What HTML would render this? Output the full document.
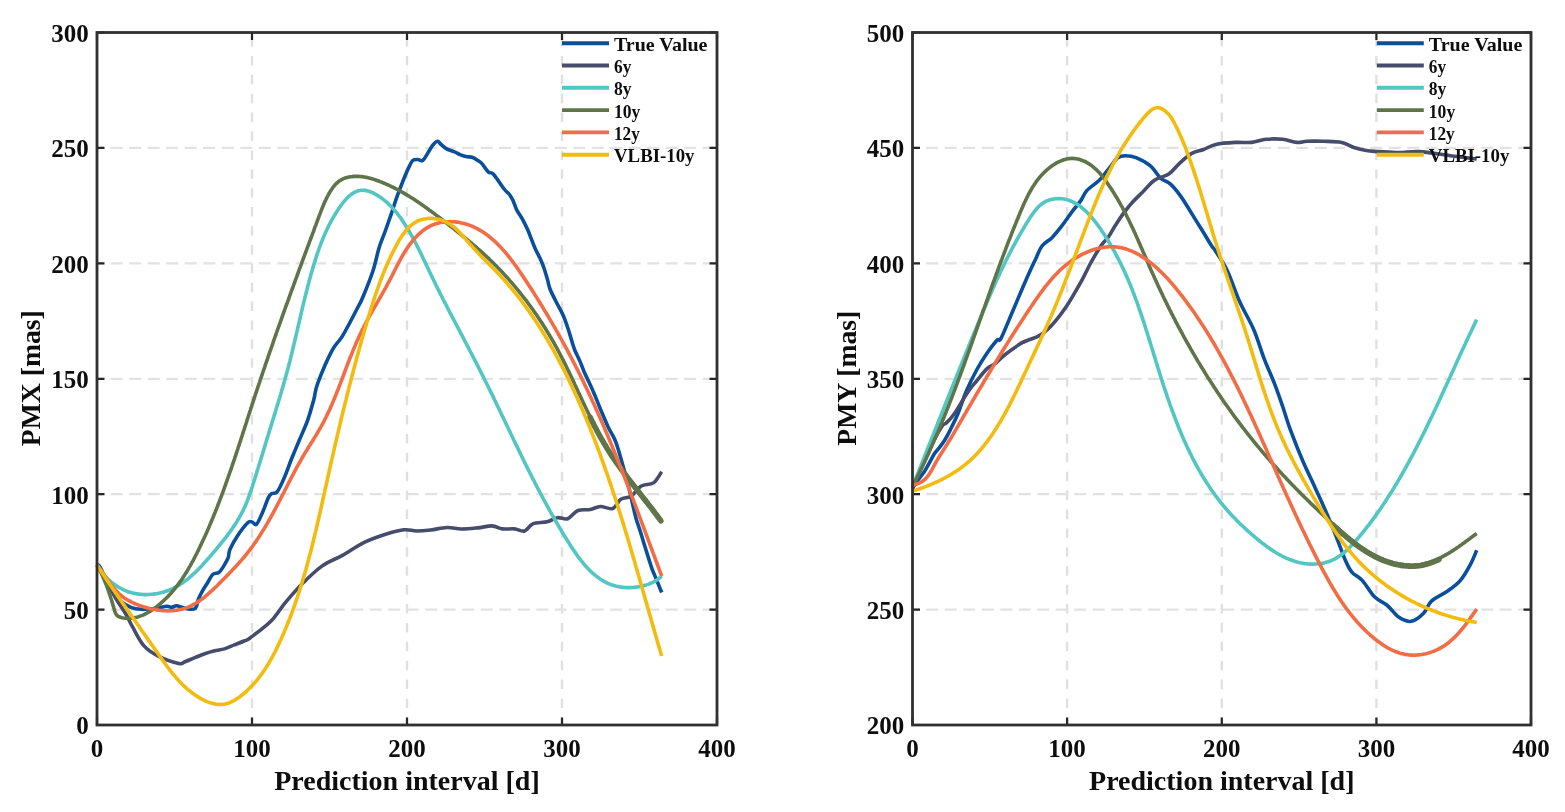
<!DOCTYPE html>
<html><head><meta charset="utf-8"><title>PMX / PMY prediction</title>
<style>
html,body{margin:0;padding:0;background:#fff;}
body{width:1565px;height:812px;overflow:hidden;}
svg{display:block;}
text{font-family:"Liberation Serif","Times New Roman",serif;font-weight:bold;fill:#0d0d0d;}
.tk{font-size:25px;}
.al{font-size:28px;}
.yl{font-size:27.7px;}
.lg{font-size:19.5px;}
</style></head><body>
<svg width="1565" height="812" viewBox="0 0 1565 812">
<rect width="1565" height="812" fill="#fff"/>
<path d="M252 32.5 V725 M407 32.5 V725 M562 32.5 V725" stroke="#e0e0e0" stroke-width="2.4" stroke-dasharray="9.5 9.4" stroke-dashoffset="-4.5" fill="none"/>
<path d="M97 609.6 H717 M97 494.2 H717 M97 378.8 H717 M97 263.3 H717 M97 147.9 H717" stroke="#e2e2e2" stroke-width="2.3" stroke-dasharray="12 6.5" stroke-dashoffset="4.8" fill="none"/>
<path d="M97 565 C97.5 565.4 98 563.4 100.2 567.4 C102.4 571.4 107 583.3 110.4 588.9 C113.8 594.5 117.3 598 120.7 601.1 C124.1 604.2 127.5 605.9 130.9 607.3 C134.3 608.7 136.8 609.1 141.1 609.3 C145.4 609.5 152.2 608.8 156.5 608.3 C160.8 607.8 164.1 606.4 166.7 606.2 C169.2 606 170.1 607.4 171.8 607.3 C173.5 607.2 174.4 605.5 176.9 605.7 C179.4 606 184 608.4 187.1 608.8 C190.2 609.2 193.4 609.9 195.3 608.3 C197.2 606.7 197.2 602 198.4 599.1 C199.6 596.2 201 593.6 202.5 590.9 C204 588.2 205.9 585.4 207.6 582.7 C209.3 580 210.8 576.2 212.7 574.5 C214.6 572.8 217.1 573.7 218.8 572.5 C220.5 571.3 221.4 569.8 222.9 567.4 C224.4 565 226.8 561.2 228 558.2 C229.2 555.2 228.4 553 230 549.3 C231.6 545.6 234.5 540.4 237.4 536 C240.3 531.6 245.3 525 247.7 522.7 C250.1 520.4 250.5 521.8 252 522 C253.5 522.2 254.9 525.8 256.6 524.2 C258.4 522.6 260.5 516.8 262.5 512.4 C264.5 508 266.8 500.8 268.4 497.6 C270 494.5 270.5 494.5 272 493.5 C273.5 492.5 275.2 494.5 277.3 491.7 C279.4 488.9 282.2 482.6 284.6 476.9 C287.1 471.2 289.5 463.8 292 457.7 C294.5 451.6 296.8 446.2 299.4 440 C302 433.8 305.2 427.1 307.6 420.4 C310 413.7 312 406.2 313.7 400 C315.4 393.8 314.7 391.4 317.8 383.1 C320.9 374.8 328 358.2 332.1 350.4 C336.2 342.6 338.3 342.9 342.4 336.1 C346.5 329.3 353.3 316 356.7 309.5 C360.1 303 360.1 303.8 362.8 297.3 C365.5 290.8 370.3 278.9 373 270.7 C375.7 262.5 377 254.5 379 248 C381 241.5 383.1 237.2 385.1 231.5 C387.1 225.8 389.3 219.6 391.2 214.1 C393.1 208.6 394.7 203.4 396.3 198.7 C397.9 194 399.6 189.8 401 186.1 C402.4 182.3 403.6 179.3 404.9 176.2 C406.2 173.1 407.5 170 408.8 167.4 C410.1 164.8 411.2 161.8 412.7 160.5 C414.2 159.2 416 159.5 417.7 159.5 C419.4 159.5 421 161.5 422.6 160.5 C424.2 159.5 425.9 156.1 427.5 153.6 C429.1 151.1 430.8 147.8 432.4 145.7 C434 143.6 435.9 141.5 437.4 141.3 C438.9 141.1 439.8 143.5 441.3 144.7 C442.8 145.9 444.1 147.4 446.2 148.6 C448.3 149.8 451.8 150.6 454.1 151.6 C456.4 152.6 458 153.8 460 154.6 C462 155.4 463.8 156 465.9 156.5 C468 157 470.8 156.8 472.8 157.5 C474.8 158.2 476.3 159.5 477.8 160.5 C479.3 161.5 480.6 162.2 481.7 163.4 C482.8 164.6 483.5 165.9 484.7 167.4 C485.9 168.9 487.1 171.2 488.6 172.3 C490.1 173.5 490.9 171.4 493.5 174.3 C496.1 177.2 501.9 186.2 504.5 189.5 C507.1 192.8 507.6 192.2 509 194 C510.4 195.8 511.5 197.3 512.8 200 C514.1 202.7 515.1 206.6 516.7 209.9 C518.4 213.2 520.9 216.4 522.7 219.7 C524.5 223 526.1 226.3 527.6 229.6 C529.1 232.9 530.2 236.1 531.5 239.4 C532.8 242.7 534 246 535.5 249.3 C537 252.6 538.9 255.8 540.4 259.1 C541.9 262.4 543.1 265.7 544.3 269 C545.4 272.3 546.3 275.5 547.3 278.8 C548.2 282.1 548.5 285.1 550 289 C551.5 292.9 554.3 298.2 556.5 302.5 C558.7 306.8 561.1 310.7 563 315 C564.9 319.3 566.6 324.3 568 328.5 C569.4 332.7 570.4 336.4 571.5 340 C572.6 343.6 573.3 346.5 574.7 350 C576.1 353.5 578.3 357.4 579.9 361.1 C581.5 364.8 582.8 368.8 584.3 372.2 C585.8 375.6 587.3 378.6 588.8 381.8 C590.3 385 591.9 388.3 593.2 391.4 C594.6 394.5 595.7 397.3 596.9 400.3 C598.1 403.3 598.8 405.1 600.6 409.5 C602.5 413.9 605.6 421.6 608 426.7 C610.4 431.8 613.2 435.8 615 440 C616.8 444.2 617.7 447.7 619 452 C620.3 456.3 621.7 461.3 623 466 C624.3 470.7 625.7 475 627 480 C628.3 485 629.6 491 630.8 496 C632 501 633 506 634 510 C635 514 635.4 516.4 636.5 520 C637.6 523.6 639.1 527.7 640.4 531.8 C641.7 535.9 643 540.3 644.3 544.6 C645.6 548.9 647 553.3 648.3 557.4 C649.6 561.5 650.7 565.3 652.2 569.3 C653.7 573.2 655.5 577.2 657.1 581.1 C658.7 585 660.9 590.6 661.7 592.5" stroke="#0a4f9c" stroke-width="3.6" fill="none" stroke-linejoin="round" stroke-linecap="butt"/>
<path d="M97 565 C98.4 567.3 102.2 573.1 105.3 578.6 C108.4 584.1 112.2 592.1 115.6 598 C119 603.9 122.9 609 125.8 614 C128.7 619 130 622.4 133 627.7 C136 633 139.8 641.2 144 645.9 C148.2 650.6 152.5 653.2 158.3 656.1 C164.1 659 174.4 662.6 178.8 663.5 C183.2 664.4 182.3 662.7 185 661.7 C187.7 660.7 191.6 659 194.9 657.7 C198.2 656.4 201.4 654.9 204.7 653.8 C208 652.6 211.3 651.6 214.6 650.8 C217.9 650 221.1 649.9 224.4 648.9 C227.7 647.9 231 646.2 234.3 644.9 C237.6 643.6 241.4 642.2 244.1 641 C246.8 639.8 245.9 641 250.4 637.7 C254.9 634.4 265 627.1 270.8 621.3 C276.6 615.5 280 609 285.1 602.9 C290.2 596.8 295.4 590.6 301.5 584.5 C307.6 578.4 315.1 571 321.9 566.1 C328.7 561.2 335.6 559.2 342.4 555.4 C349.2 551.6 356 546.5 362.8 543.1 C369.6 539.7 376.5 537.2 383.3 535 C390.1 532.8 398.2 530.5 403.7 529.8 C409.2 529.1 411.9 531 416.4 531 C420.9 531 425.6 530.6 430.7 530 C435.8 529.4 441.9 527.7 447 527.5 C452.1 527.3 456.2 528.9 461.3 529 C466.4 529.1 472.6 528.4 477.7 527.9 C482.8 527.4 487.9 525.7 492 525.9 C496.1 526.1 498.4 528.4 502.2 528.9 C505.9 529.4 510.8 528.5 514.5 528.9 C518.2 529.2 521.6 531.9 524.7 531 C527.8 530.1 529.1 525.3 532.9 523.8 C536.6 522.3 543.1 522.8 547.2 521.8 C551.3 520.8 554 518.2 557.4 517.7 C560.8 517.2 564.3 519.9 567.7 518.7 C571.1 517.5 574.1 512 577.9 510.5 C581.6 509 586.5 510.2 590.2 509.5 C594 508.8 596.6 506.7 600.4 506.5 C604.1 506.3 609.3 509.7 612.7 508.5 C616.1 507.3 617.7 501.4 620.8 499.3 C623.9 497.2 627.7 498.4 631.1 496.2 C634.5 494 637.6 488.2 641.3 486 C645 483.8 650.1 485.3 653.5 482.9 C656.9 480.5 660.3 473.6 661.7 471.7" stroke="#464c6c" stroke-width="3.6" fill="none" stroke-linejoin="round" stroke-linecap="butt"/>
<path d="M97 565 L97.7 566.3 L98.5 567.6 L99.3 568.8 L100.2 570 L101 571.3 L101.9 572.4 L102.9 573.6 L103.8 574.8 L104.8 575.9 L105.9 577 L106.9 578.1 L108 579.1 L109.1 580.2 L110.2 581.2 L111.4 582.1 L112.6 583.1 L113.8 584 L115 584.9 L116.3 585.7 L117.5 586.5 L118.8 587.3 L120.1 588 L121.4 588.7 L122.8 589.4 L124.1 590.1 L125.5 590.6 L126.9 591.2 L128.3 591.7 L129.7 592.2 L131.2 592.6 L132.6 593 L134.1 593.3 L135.5 593.6 L137 593.9 L138.5 594.1 L139.9 594.3 L141.4 594.4 L142.9 594.5 L144.4 594.6 L145.9 594.6 L147.4 594.6 L148.9 594.5 L150.4 594.4 L151.9 594.3 L153.4 594.1 L154.9 593.9 L156.4 593.7 L157.9 593.4 L159.3 593.1 L160.8 592.8 L162.3 592.4 L163.7 592 L165.1 591.5 L166.6 591 L168 590.5 L169.4 590 L170.7 589.4 L172.1 588.8 L173.4 588.2 L174.7 587.5 L176 586.8 L177.3 586.1 L178.6 585.4 L179.9 584.6 L181.1 583.8 L182.3 583 L183.5 582.1 L184.7 581.3 L185.9 580.4 L187.1 579.5 L188.3 578.6 L189.4 577.6 L190.5 576.6 L191.7 575.7 L192.8 574.7 L193.9 573.6 L195 572.6 L196.1 571.6 L197.1 570.5 L198.2 569.4 L199.3 568.4 L200.3 567.3 L201.4 566.2 L202.4 565.1 L203.4 563.9 L204.4 562.8 L205.5 561.7 L206.5 560.5 L207.5 559.4 L208.5 558.2 L209.5 557.1 L210.5 555.9 L211.5 554.8 L212.5 553.6 L213.4 552.5 L214.4 551.3 L215.4 550.1 L216.4 549 L217.4 547.8 L218.3 546.7 L219.3 545.5 L220.2 544.3 L221.2 543.2 L222.1 542 L223.1 540.8 L224 539.6 L224.9 538.5 L225.9 537.3 L226.8 536.1 L227.7 534.9 L228.6 533.7 L229.5 532.5 L230.3 531.3 L231.2 530.1 L232.1 528.9 L232.9 527.6 L233.7 526.4 L234.6 525.2 L235.4 523.9 L236.2 522.7 L237 521.4 L237.7 520.2 L238.5 518.9 L239.2 517.6 L240 516.3 L240.7 515 L241.4 513.7 L242.1 512.4 L242.7 511.1 L243.4 509.8 L244 508.4 L244.7 507.1 L245.3 505.7 L245.9 504.3 L246.4 503 L247 501.6 L247.5 500.2 L248.1 498.8 L248.6 497.4 L249.1 496 L249.6 494.6 L250.1 493.1 L250.6 491.7 L251.1 490.3 L251.5 488.8 L252 487.4 L252.5 486 L252.9 484.5 L253.4 483.1 L253.9 481.7 L254.3 480.2 L254.8 478.8 L255.2 477.3 L255.7 475.9 L256.1 474.5 L256.6 473 L257 471.6 L257.4 470.2 L257.9 468.7 L258.3 467.3 L258.8 465.9 L259.2 464.4 L259.7 463 L260.1 461.6 L260.5 460.2 L261 458.7 L261.4 457.3 L261.9 455.9 L262.3 454.4 L262.7 453 L263.2 451.6 L263.6 450.1 L264 448.7 L264.5 447.3 L264.9 445.9 L265.3 444.4 L265.8 443 L266.2 441.6 L266.6 440.1 L267.1 438.7 L267.5 437.3 L268 435.9 L268.4 434.4 L268.8 433 L269.3 431.6 L269.7 430.1 L270.1 428.7 L270.6 427.3 L271 425.9 L271.5 424.4 L271.9 423 L272.3 421.6 L272.8 420.1 L273.2 418.7 L273.7 417.3 L274.1 415.8 L274.5 414.4 L275 413 L275.4 411.6 L275.9 410.1 L276.3 408.7 L276.7 407.3 L277.2 405.8 L277.6 404.4 L278.1 403 L278.5 401.5 L278.9 400.1 L279.4 398.6 L279.8 397.2 L280.2 395.8 L280.7 394.3 L281.1 392.9 L281.5 391.5 L281.9 390 L282.4 388.6 L282.8 387.1 L283.2 385.7 L283.6 384.3 L284 382.8 L284.4 381.4 L284.8 379.9 L285.2 378.5 L285.6 377.1 L286 375.6 L286.4 374.2 L286.8 372.7 L287.2 371.3 L287.6 369.8 L288 368.4 L288.4 366.9 L288.7 365.5 L289.1 364 L289.5 362.6 L289.9 361.1 L290.2 359.7 L290.6 358.2 L290.9 356.8 L291.3 355.3 L291.7 353.9 L292 352.4 L292.4 351 L292.7 349.5 L293.1 348.1 L293.4 346.6 L293.8 345.2 L294.1 343.7 L294.4 342.3 L294.8 340.8 L295.1 339.3 L295.5 337.9 L295.8 336.4 L296.1 335 L296.5 333.5 L296.8 332.1 L297.2 330.6 L297.5 329.2 L297.8 327.7 L298.2 326.2 L298.5 324.8 L298.8 323.3 L299.2 321.9 L299.5 320.4 L299.9 319 L300.2 317.5 L300.5 316 L300.9 314.6 L301.2 313.1 L301.6 311.7 L301.9 310.2 L302.2 308.8 L302.6 307.3 L302.9 305.9 L303.3 304.4 L303.6 303 L304 301.5 L304.3 300.1 L304.7 298.6 L305 297.2 L305.4 295.7 L305.8 294.2 L306.1 292.8 L306.5 291.3 L306.9 289.9 L307.2 288.5 L307.6 287 L308 285.6 L308.4 284.1 L308.8 282.7 L309.1 281.2 L309.5 279.8 L309.9 278.3 L310.3 276.9 L310.7 275.4 L311.1 274 L311.5 272.6 L312 271.1 L312.4 269.7 L312.8 268.2 L313.2 266.8 L313.6 265.4 L314.1 263.9 L314.5 262.5 L315 261.1 L315.4 259.6 L315.9 258.2 L316.3 256.8 L316.8 255.3 L317.3 253.9 L317.7 252.5 L318.2 251.1 L318.7 249.7 L319.2 248.2 L319.7 246.8 L320.3 245.4 L320.8 244 L321.3 242.6 L321.9 241.2 L322.4 239.8 L323 238.4 L323.6 237 L324.2 235.6 L324.8 234.2 L325.4 232.9 L326 231.5 L326.6 230.1 L327.3 228.7 L327.9 227.4 L328.6 226 L329.3 224.7 L330 223.3 L330.7 222 L331.4 220.6 L332.2 219.3 L332.9 218 L333.7 216.6 L334.5 215.3 L335.3 214 L336.1 212.7 L336.9 211.4 L337.8 210.1 L338.6 208.8 L339.5 207.5 L340.4 206.3 L341.3 205 L342.2 203.8 L343.2 202.5 L344.2 201.4 L345.2 200.2 L346.2 199.1 L347.2 198 L348.2 197 L349.3 196 L350.4 195.1 L351.5 194.3 L352.6 193.5 L353.7 192.8 L354.9 192.1 L356.1 191.6 L357.3 191.1 L358.5 190.8 L359.7 190.5 L361 190.3 L362.3 190.3 L363.6 190.3 L364.9 190.4 L366.2 190.6 L367.5 190.9 L368.9 191.3 L370.2 191.8 L371.6 192.3 L373 192.9 L374.3 193.6 L375.6 194.3 L377 195.1 L378.3 195.9 L379.6 196.8 L380.9 197.7 L382.2 198.6 L383.5 199.6 L384.8 200.6 L386 201.7 L387.2 202.7 L388.4 203.8 L389.5 204.9 L390.6 206 L391.7 207.1 L392.8 208.3 L393.8 209.4 L394.8 210.6 L395.8 211.7 L396.8 212.9 L397.7 214.1 L398.6 215.3 L399.5 216.5 L400.4 217.7 L401.3 218.9 L402.1 220.2 L403 221.4 L403.8 222.7 L404.6 223.9 L405.4 225.2 L406.2 226.4 L407 227.7 L407.7 229 L408.5 230.2 L409.3 231.5 L410 232.8 L410.7 234.1 L411.5 235.4 L412.2 236.7 L412.9 238 L413.6 239.3 L414.3 240.6 L415 241.9 L415.7 243.2 L416.4 244.5 L417 245.9 L417.7 247.2 L418.4 248.5 L419 249.8 L419.7 251.2 L420.4 252.5 L421 253.8 L421.7 255.2 L422.3 256.5 L422.9 257.8 L423.6 259.2 L424.2 260.5 L424.9 261.9 L425.5 263.2 L426.1 264.6 L426.8 265.9 L427.4 267.2 L428.1 268.6 L428.7 269.9 L429.3 271.3 L430 272.6 L430.6 274 L431.3 275.3 L431.9 276.7 L432.6 278 L433.2 279.3 L433.9 280.7 L434.5 282 L435.2 283.4 L435.8 284.7 L436.5 286.1 L437.2 287.4 L437.8 288.7 L438.5 290.1 L439.2 291.4 L439.8 292.8 L440.5 294.1 L441.2 295.4 L441.9 296.8 L442.5 298.1 L443.2 299.5 L443.9 300.8 L444.6 302.1 L445.3 303.5 L446 304.8 L446.7 306.1 L447.3 307.5 L448 308.8 L448.7 310.2 L449.4 311.5 L450.1 312.8 L450.8 314.2 L451.5 315.5 L452.2 316.8 L452.9 318.2 L453.6 319.5 L454.3 320.8 L455 322.2 L455.7 323.5 L456.4 324.8 L457.1 326.2 L457.8 327.5 L458.5 328.8 L459.2 330.2 L459.9 331.5 L460.6 332.9 L461.3 334.2 L462 335.5 L462.7 336.9 L463.4 338.2 L464.1 339.5 L464.8 340.9 L465.5 342.2 L466.2 343.5 L466.9 344.9 L467.6 346.2 L468.3 347.5 L468.9 348.9 L469.6 350.2 L470.3 351.5 L471 352.9 L471.7 354.2 L472.4 355.5 L473.1 356.9 L473.8 358.2 L474.5 359.5 L475.2 360.9 L475.9 362.2 L476.6 363.6 L477.2 364.9 L477.9 366.2 L478.6 367.6 L479.3 368.9 L480 370.2 L480.6 371.6 L481.3 372.9 L482 374.3 L482.7 375.6 L483.3 376.9 L484 378.3 L484.7 379.6 L485.3 381 L486 382.3 L486.7 383.6 L487.3 385 L488 386.3 L488.7 387.7 L489.3 389 L490 390.3 L490.6 391.7 L491.3 393 L491.9 394.4 L492.6 395.7 L493.2 397.1 L493.9 398.4 L494.5 399.7 L495.2 401.1 L495.8 402.4 L496.5 403.8 L497.1 405.1 L497.8 406.5 L498.4 407.8 L499.1 409.1 L499.7 410.5 L500.4 411.8 L501 413.2 L501.6 414.5 L502.3 415.9 L502.9 417.2 L503.6 418.5 L504.2 419.9 L504.8 421.2 L505.5 422.6 L506.1 423.9 L506.8 425.3 L507.4 426.6 L508.1 427.9 L508.7 429.3 L509.3 430.6 L510 432 L510.6 433.3 L511.3 434.7 L511.9 436 L512.5 437.3 L513.2 438.7 L513.8 440 L514.5 441.4 L515.1 442.7 L515.8 444.1 L516.4 445.4 L517.1 446.7 L517.7 448.1 L518.4 449.4 L519 450.8 L519.7 452.1 L520.3 453.4 L521 454.8 L521.6 456.1 L522.3 457.5 L522.9 458.8 L523.6 460.1 L524.2 461.5 L524.9 462.8 L525.5 464.2 L526.2 465.5 L526.9 466.8 L527.5 468.2 L528.2 469.5 L528.9 470.8 L529.5 472.2 L530.2 473.5 L530.9 474.8 L531.6 476.2 L532.2 477.5 L532.9 478.8 L533.6 480.2 L534.3 481.5 L534.9 482.8 L535.6 484.2 L536.3 485.5 L537 486.8 L537.7 488.2 L538.4 489.5 L539.1 490.8 L539.8 492.1 L540.5 493.5 L541.2 494.8 L541.9 496.1 L542.6 497.4 L543.3 498.8 L544 500.1 L544.7 501.4 L545.4 502.7 L546.2 504.1 L546.9 505.4 L547.6 506.7 L548.3 508 L549.1 509.3 L549.8 510.7 L550.5 512 L551.3 513.3 L552 514.6 L552.8 515.9 L553.5 517.2 L554.3 518.6 L555 519.9 L555.8 521.2 L556.5 522.5 L557.3 523.8 L558.1 525.1 L558.8 526.4 L559.6 527.7 L560.4 529 L561.2 530.4 L561.9 531.7 L562.7 533 L563.5 534.3 L564.3 535.6 L565.1 536.9 L565.9 538.2 L566.7 539.5 L567.5 540.8 L568.4 542.1 L569.2 543.4 L570 544.7 L570.8 546 L571.7 547.2 L572.5 548.5 L573.4 549.8 L574.2 551.1 L575.1 552.3 L575.9 553.6 L576.8 554.8 L577.7 556.1 L578.6 557.3 L579.5 558.5 L580.4 559.7 L581.3 560.9 L582.3 562 L583.2 563.2 L584.2 564.3 L585.1 565.5 L586.1 566.6 L587.1 567.6 L588.1 568.7 L589.1 569.8 L590.1 570.8 L591.2 571.8 L592.2 572.8 L593.3 573.7 L594.4 574.7 L595.5 575.6 L596.6 576.4 L597.7 577.3 L598.9 578.1 L600 578.9 L601.2 579.7 L602.4 580.4 L603.6 581.1 L604.9 581.8 L606.1 582.5 L607.4 583.1 L608.7 583.6 L610 584.2 L611.3 584.7 L612.7 585.1 L614.1 585.6 L615.5 586 L616.9 586.3 L618.3 586.6 L619.8 586.9 L621.3 587.1 L622.8 587.3 L624.3 587.5 L625.9 587.6 L627.4 587.6 L629 587.6 L630.6 587.6 L632.2 587.5 L633.8 587.4 L635.5 587.2 L637.1 587 L638.7 586.8 L640.3 586.5 L641.9 586.1 L643.4 585.8 L645 585.3 L646.5 584.9 L648 584.4 L649.5 583.8 L650.9 583.2 L652.3 582.6 L653.7 581.9 L655 581.2 L656.2 580.4 L657.5 579.6 L658.6 578.8 L659.7 577.9 L660.7 577 L661.7 576" stroke="#52c6c2" stroke-width="3.6" fill="none" stroke-linejoin="round" stroke-linecap="butt"/>
<path d="M97 565 L97.8 566.4 L98.5 567.7 L99.2 569.1 L99.9 570.5 L100.6 571.8 L101.2 573.2 L101.9 574.6 L102.5 575.9 L103.1 577.3 L103.7 578.6 L104.3 580 L104.8 581.3 L105.4 582.7 L105.9 584.1 L106.5 585.4 L107 586.8 L107.5 588.2 L108 589.6 L108.5 591 L109 592.4 L109.4 593.8 L109.9 595.2 L110.4 596.6 L110.8 598 L111.3 599.4 L111.7 600.9 L112.2 602.3 L112.6 603.8 L113 605.3 L113.5 606.7 L113.9 608.2 L114.4 609.8 L114.8 611.3 L115.4 612.7 L116 614 L116.8 615.2 L117.8 616.1 L119.1 616.8 L120.5 617.3 L122 617.7 L123.5 618 L124.9 618.2 L126.4 618.3 L127.9 618.4 L129.3 618.3 L130.8 618.3 L132.3 618.1 L133.7 617.9 L135.1 617.6 L136.6 617.3 L138 616.9 L139.4 616.4 L140.8 615.9 L142.2 615.4 L143.6 614.8 L144.9 614.1 L146.3 613.4 L147.6 612.7 L149 611.9 L150.3 611.1 L151.6 610.3 L152.9 609.4 L154.2 608.5 L155.4 607.6 L156.7 606.6 L157.9 605.7 L159.1 604.7 L160.3 603.7 L161.4 602.7 L162.6 601.6 L163.7 600.6 L164.8 599.5 L165.9 598.5 L167 597.4 L168.1 596.3 L169.1 595.2 L170.2 594.1 L171.2 593 L172.2 591.8 L173.1 590.7 L174.1 589.5 L175.1 588.4 L176 587.2 L176.9 586 L177.8 584.8 L178.7 583.6 L179.6 582.4 L180.5 581.2 L181.3 580 L182.2 578.8 L183 577.5 L183.8 576.3 L184.6 575 L185.4 573.8 L186.2 572.5 L187 571.3 L187.7 570 L188.5 568.7 L189.2 567.4 L190 566.1 L190.7 564.8 L191.4 563.5 L192.1 562.2 L192.9 560.9 L193.6 559.6 L194.2 558.3 L194.9 557 L195.6 555.6 L196.3 554.3 L197 553 L197.6 551.6 L198.3 550.3 L198.9 549 L199.6 547.6 L200.2 546.3 L200.9 544.9 L201.5 543.6 L202.1 542.2 L202.8 540.9 L203.4 539.5 L204 538.2 L204.6 536.8 L205.3 535.5 L205.9 534.1 L206.5 532.8 L207.1 531.4 L207.7 530 L208.3 528.7 L208.9 527.3 L209.5 525.9 L210 524.5 L210.6 523.2 L211.2 521.8 L211.8 520.4 L212.3 519 L212.9 517.7 L213.5 516.3 L214 514.9 L214.6 513.5 L215.2 512.1 L215.7 510.7 L216.3 509.4 L216.8 508 L217.4 506.6 L217.9 505.2 L218.4 503.8 L219 502.4 L219.5 501 L220 499.6 L220.6 498.2 L221.1 496.8 L221.6 495.4 L222.2 494 L222.7 492.6 L223.2 491.2 L223.7 489.8 L224.2 488.4 L224.7 487 L225.2 485.6 L225.7 484.1 L226.2 482.7 L226.7 481.3 L227.2 479.9 L227.7 478.5 L228.2 477.1 L228.7 475.7 L229.2 474.3 L229.7 472.8 L230.2 471.4 L230.7 470 L231.2 468.6 L231.7 467.2 L232.2 465.7 L232.6 464.3 L233.1 462.9 L233.6 461.5 L234.1 460.1 L234.6 458.6 L235 457.2 L235.5 455.8 L236 454.4 L236.5 452.9 L236.9 451.5 L237.4 450.1 L237.9 448.6 L238.3 447.2 L238.8 445.8 L239.3 444.4 L239.7 442.9 L240.2 441.5 L240.7 440.1 L241.1 438.6 L241.6 437.2 L242.1 435.8 L242.5 434.4 L243 432.9 L243.4 431.5 L243.9 430.1 L244.4 428.6 L244.8 427.2 L245.3 425.8 L245.8 424.3 L246.2 422.9 L246.7 421.5 L247.1 420.1 L247.6 418.6 L248.1 417.2 L248.5 415.8 L249 414.3 L249.5 412.9 L249.9 411.5 L250.4 410 L250.8 408.6 L251.3 407.2 L251.8 405.8 L252.2 404.3 L252.7 402.9 L253.2 401.5 L253.6 400.1 L254.1 398.6 L254.6 397.2 L255 395.8 L255.5 394.3 L256 392.9 L256.4 391.5 L256.9 390.1 L257.4 388.6 L257.9 387.2 L258.3 385.8 L258.8 384.4 L259.3 383 L259.8 381.5 L260.2 380.1 L260.7 378.7 L261.2 377.3 L261.7 375.8 L262.2 374.4 L262.6 373 L263.1 371.6 L263.6 370.2 L264.1 368.7 L264.6 367.3 L265 365.9 L265.5 364.5 L266 363.1 L266.5 361.7 L267 360.2 L267.5 358.8 L268 357.4 L268.4 356 L268.9 354.6 L269.4 353.2 L269.9 351.7 L270.4 350.3 L270.9 348.9 L271.4 347.5 L271.9 346.1 L272.4 344.7 L272.9 343.3 L273.3 341.8 L273.8 340.4 L274.3 339 L274.8 337.6 L275.3 336.2 L275.8 334.8 L276.3 333.4 L276.8 332 L277.3 330.5 L277.8 329.1 L278.3 327.7 L278.8 326.3 L279.3 324.9 L279.8 323.5 L280.3 322.1 L280.8 320.7 L281.3 319.3 L281.8 317.9 L282.3 316.4 L282.8 315 L283.3 313.6 L283.8 312.2 L284.3 310.8 L284.8 309.4 L285.3 308 L285.8 306.6 L286.3 305.2 L286.9 303.8 L287.4 302.4 L287.9 301 L288.4 299.6 L288.9 298.1 L289.4 296.7 L289.9 295.3 L290.4 293.9 L290.9 292.5 L291.4 291.1 L291.9 289.7 L292.5 288.3 L293 286.9 L293.5 285.5 L294 284.1 L294.5 282.7 L295 281.3 L295.5 279.9 L296 278.5 L296.6 277.1 L297.1 275.7 L297.6 274.3 L298.1 272.9 L298.6 271.4 L299.1 270 L299.6 268.6 L300.2 267.2 L300.7 265.8 L301.2 264.4 L301.7 263 L302.2 261.6 L302.7 260.2 L303.3 258.8 L303.8 257.4 L304.3 256 L304.8 254.6 L305.3 253.2 L305.9 251.8 L306.4 250.4 L306.9 249 L307.4 247.6 L307.9 246.2 L308.5 244.8 L309 243.4 L309.5 242 L310 240.6 L310.5 239.2 L311.1 237.8 L311.6 236.4 L312.1 235 L312.6 233.6 L313.2 232.2 L313.7 230.8 L314.2 229.3 L314.7 227.9 L315.2 226.5 L315.8 225.1 L316.3 223.7 L316.8 222.3 L317.3 220.9 L317.9 219.5 L318.4 218.1 L318.9 216.7 L319.4 215.3 L320 213.9 L320.5 212.5 L321 211.1 L321.6 209.7 L322.1 208.3 L322.7 206.9 L323.3 205.5 L323.8 204.2 L324.4 202.8 L325 201.4 L325.7 200 L326.3 198.7 L327 197.3 L327.7 196 L328.4 194.6 L329.2 193.3 L329.9 192 L330.7 190.7 L331.6 189.4 L332.4 188.2 L333.3 186.9 L334.3 185.8 L335.3 184.6 L336.3 183.6 L337.4 182.6 L338.5 181.6 L339.7 180.8 L340.9 180 L342.2 179.3 L343.5 178.7 L344.9 178.1 L346.3 177.7 L347.8 177.3 L349.2 177 L350.7 176.7 L352.2 176.6 L353.8 176.4 L355.3 176.4 L356.8 176.4 L358.4 176.4 L359.9 176.5 L361.4 176.6 L362.9 176.8 L364.3 177 L365.8 177.3 L367.3 177.6 L368.7 177.9 L370.1 178.3 L371.6 178.7 L373 179.1 L374.4 179.6 L375.8 180 L377.2 180.5 L378.6 181 L380 181.6 L381.4 182.1 L382.8 182.7 L384.2 183.2 L385.5 183.8 L386.9 184.4 L388.3 185 L389.6 185.7 L391 186.3 L392.3 187 L393.7 187.6 L395 188.3 L396.3 189 L397.6 189.7 L399 190.4 L400.3 191.1 L401.6 191.9 L402.9 192.6 L404.2 193.3 L405.5 194.1 L406.8 194.9 L408.1 195.7 L409.4 196.4 L410.6 197.2 L411.9 198 L413.2 198.8 L414.4 199.6 L415.7 200.5 L416.9 201.3 L418.2 202.1 L419.4 203 L420.6 203.8 L421.9 204.7 L423.1 205.5 L424.3 206.4 L425.5 207.2 L426.7 208.1 L427.9 209 L429.1 209.9 L430.3 210.7 L431.5 211.6 L432.7 212.5 L433.9 213.4 L435.1 214.3 L436.2 215.2 L437.4 216 L438.6 216.9 L439.8 217.8 L440.9 218.7 L442.1 219.6 L443.3 220.6 L444.4 221.5 L445.6 222.4 L446.8 223.3 L447.9 224.2 L449.1 225.1 L450.2 226 L451.4 226.9 L452.6 227.9 L453.8 228.8 L454.9 229.7 L456.1 230.6 L457.3 231.6 L458.4 232.5 L459.6 233.4 L460.8 234.4 L461.9 235.3 L463.1 236.3 L464.3 237.2 L465.4 238.1 L466.6 239.1 L467.7 240.1 L468.9 241 L470 242 L471.2 242.9 L472.3 243.9 L473.5 244.9 L474.6 245.9 L475.8 246.8 L476.9 247.8 L478 248.8 L479.2 249.8 L480.3 250.8 L481.4 251.8 L482.5 252.8 L483.6 253.8 L484.7 254.8 L485.8 255.9 L486.9 256.9 L488 257.9 L489.1 258.9 L490.2 260 L491.3 261 L492.3 262.1 L493.4 263.1 L494.5 264.2 L495.5 265.2 L496.6 266.3 L497.6 267.4 L498.7 268.5 L499.7 269.5 L500.7 270.6 L501.8 271.7 L502.8 272.8 L503.8 273.9 L504.8 275 L505.8 276.1 L506.8 277.2 L507.8 278.3 L508.8 279.4 L509.8 280.6 L510.8 281.7 L511.8 282.8 L512.7 283.9 L513.7 285.1 L514.7 286.2 L515.6 287.4 L516.6 288.5 L517.5 289.7 L518.5 290.8 L519.4 292 L520.3 293.1 L521.3 294.3 L522.2 295.5 L523.1 296.7 L524 297.8 L525 299 L525.9 300.2 L526.8 301.4 L527.7 302.6 L528.5 303.8 L529.4 305 L530.3 306.2 L531.2 307.4 L532.1 308.6 L532.9 309.8 L533.8 311.1 L534.7 312.3 L535.5 313.5 L536.4 314.7 L537.2 316 L538 317.2 L538.9 318.5 L539.7 319.7 L540.5 320.9 L541.3 322.2 L542.2 323.4 L543 324.7 L543.8 326 L544.6 327.2 L545.4 328.5 L546.2 329.8 L546.9 331 L547.7 332.3 L548.5 333.6 L549.3 334.9 L550 336.2 L550.8 337.5 L551.5 338.7 L552.3 340 L553 341.3 L553.8 342.6 L554.5 343.9 L555.2 345.3 L556 346.6 L556.7 347.9 L557.4 349.2 L558.1 350.5 L558.8 351.8 L559.5 353.2 L560.2 354.5 L560.9 355.8 L561.6 357.1 L562.3 358.5 L563 359.8 L563.6 361.2 L564.3 362.5 L565 363.8 L565.7 365.2 L566.3 366.5 L567 367.9 L567.6 369.2 L568.3 370.6 L568.9 371.9 L569.6 373.3 L570.2 374.6 L570.9 376 L571.5 377.4 L572.2 378.7 L572.8 380.1 L573.4 381.4 L574.1 382.8 L574.7 384.2 L575.3 385.5 L576 386.9 L576.6 388.2 L577.3 389.6 L577.9 391 L578.5 392.3 L579.2 393.7 L579.8 395.1 L580.4 396.4 L581.1 397.8 L581.7 399.1 L582.3 400.5 L583 401.9 L583.6 403.2 L584.2 404.6 L584.9 405.9 L585.5 407.3 L586.2 408.6 L586.8 410 L587.5 411.3 L588.1 412.7 L588.8 414 L589.4 415.4 L590.1 416.7 L590.8 418.1 L591.4 419.4 L592.1 420.8 L592.8 422.1 L593.5 423.4 L594.1 424.8 L594.8 426.1 L595.5 427.4 L596.2 428.7 L596.9 430.1 L597.6 431.4 L598.3 432.7 L599.1 434 L599.8 435.3 L600.5 436.6 L601.2 437.9 L602 439.2 L602.7 440.5 L603.5 441.8 L604.2 443.1 L605 444.4 L605.8 445.6 L606.5 446.9 L607.3 448.2 L608.1 449.4 L608.9 450.7 L609.7 452 L610.5 453.2 L611.3 454.5 L612.2 455.7 L613 457 L613.8 458.2 L614.7 459.4 L615.5 460.7 L616.4 461.9 L617.2 463.1 L618.1 464.3 L619 465.5 L619.8 466.8 L620.7 468 L621.6 469.2 L622.5 470.4 L623.4 471.6 L624.3 472.8 L625.2 474 L626.1 475.2 L627 476.4 L627.9 477.6 L628.8 478.8 L629.7 479.9 L630.6 481.1 L631.6 482.3 L632.5 483.5 L633.4 484.7 L634.3 485.9 L635.3 487.1 L636.2 488.2 L637.1 489.4 L638 490.6 L639 491.8 L639.9 493 L640.8 494.1 L641.7 495.3 L642.7 496.5 L643.6 497.7 L644.5 498.9 L645.5 500 L646.4 501.2 L647.3 502.4 L648.2 503.6 L649.1 504.8 L650.1 506 L651 507.1 L651.9 508.3 L652.8 509.5 L653.7 510.7 L654.6 511.9 L655.5 513.1 L656.4 514.3 L657.3 515.5 L658.2 516.7 L659.1 517.9 L660 519.1 L660.8 520.3 L661.7 521.5" stroke="#607449" stroke-width="3.6" fill="none" stroke-linejoin="round" stroke-linecap="butt"/>
<path d="M590.1 417.2 L590.8 418.6 L591.4 419.9 L592.1 421.3 L592.8 422.6 L593.5 423.9 L594.1 425.3 L594.8 426.6 L595.5 427.9 L596.2 429.2 L596.9 430.6 L597.6 431.9 L598.3 433.2 L599.1 434.5 L599.8 435.8 L600.5 437.1 L601.2 438.4 L602 439.7 L602.7 441 L603.5 442.3 L604.2 443.6 L605 444.9 L605.8 446.1 L606.5 447.4 L607.3 448.7 L608.1 449.9 L608.9 451.2 L609.7 452.5 L610.5 453.7 L611.3 455 L612.2 456.2 L613 457.5 L613.8 458.7 L614.7 459.9 L615.5 461.2 L616.4 462.4 L617.2 463.6 L618.1 464.8 L619 466 L619.8 467.3 L620.7 468.5 L621.6 469.7 L622.5 470.9 L623.4 472.1 L624.3 473.3 L625.2 474.5 L626.1 475.7 L627 476.9 L627.9 478.1 L628.8 479.3 L629.7 480.4 L630.6 481.6 L631.6 482.8 L632.5 484 L633.4 485.2 L634.3 486.4 L635.3 487.6 L636.2 488.7 L637.1 489.9 L638 491.1 L639 492.3 L639.9 493.5 L640.8 494.6 L641.7 495.8 L642.7 497 L643.6 498.2 L644.5 499.4 L645.5 500.5 L646.4 501.7 L647.3 502.9 L648.2 504.1 L649.1 505.3 L650.1 506.5 L651 507.6 L651.9 508.8 L652.8 510 L653.7 511.2 L654.6 512.4 L655.5 513.6 L656.4 514.8 L657.3 516 L658.2 517.2 L659.1 518.4 L660 519.6 L660.8 520.8" stroke="#607449" stroke-width="5.6" fill="none" stroke-linejoin="round" stroke-linecap="round"/>
<path d="M97 565 L97.9 566.2 L98.8 567.4 L99.6 568.6 L100.5 569.8 L101.4 571 L102.2 572.2 L103.1 573.5 L103.9 574.7 L104.8 575.9 L105.6 577.2 L106.5 578.4 L107.4 579.7 L108.2 580.9 L109.1 582.1 L110 583.3 L110.9 584.5 L111.8 585.7 L112.8 586.9 L113.7 588 L114.7 589.1 L115.7 590.2 L116.7 591.3 L117.7 592.3 L118.7 593.4 L119.8 594.3 L120.9 595.3 L122 596.2 L123.2 597.1 L124.3 597.9 L125.5 598.7 L126.8 599.5 L128 600.2 L129.3 600.9 L130.6 601.6 L131.9 602.3 L133.2 602.9 L134.6 603.5 L136 604.1 L137.4 604.6 L138.8 605.2 L140.2 605.7 L141.6 606.2 L143.1 606.6 L144.5 607.1 L146 607.5 L147.5 607.9 L149 608.3 L150.5 608.7 L152 609 L153.6 609.3 L155.1 609.6 L156.6 609.9 L158.1 610.1 L159.7 610.3 L161.2 610.5 L162.7 610.6 L164.3 610.7 L165.8 610.8 L167.3 610.9 L168.8 610.9 L170.3 610.8 L171.8 610.8 L173.3 610.7 L174.8 610.5 L176.3 610.3 L177.7 610.1 L179.2 609.8 L180.6 609.5 L182 609.2 L183.4 608.8 L184.8 608.4 L186.2 607.9 L187.5 607.4 L188.9 606.8 L190.2 606.2 L191.5 605.6 L192.8 604.9 L194.1 604.2 L195.3 603.5 L196.6 602.7 L197.8 601.9 L199.1 601.1 L200.3 600.3 L201.5 599.4 L202.7 598.5 L203.9 597.6 L205 596.7 L206.2 595.7 L207.3 594.7 L208.5 593.7 L209.6 592.7 L210.7 591.7 L211.9 590.7 L213 589.7 L214.1 588.6 L215.2 587.5 L216.3 586.5 L217.4 585.4 L218.4 584.3 L219.5 583.2 L220.6 582.2 L221.6 581.1 L222.7 580 L223.8 578.9 L224.8 577.9 L225.9 576.8 L226.9 575.7 L228 574.7 L229 573.6 L230 572.5 L231.1 571.5 L232.1 570.4 L233.1 569.3 L234.1 568.3 L235.1 567.2 L236.1 566.1 L237.1 565 L238.1 563.9 L239.1 562.8 L240.1 561.7 L241 560.6 L242 559.5 L243 558.4 L243.9 557.3 L244.9 556.1 L245.8 555 L246.7 553.8 L247.6 552.7 L248.5 551.5 L249.4 550.3 L250.3 549.1 L251.2 548 L252.1 546.8 L253 545.6 L253.9 544.3 L254.7 543.1 L255.6 541.9 L256.4 540.7 L257.3 539.4 L258.1 538.2 L258.9 536.9 L259.7 535.7 L260.5 534.4 L261.3 533.2 L262.1 531.9 L262.9 530.6 L263.7 529.4 L264.5 528.1 L265.3 526.8 L266 525.5 L266.8 524.2 L267.5 522.9 L268.3 521.6 L269 520.3 L269.8 519 L270.5 517.7 L271.2 516.4 L271.9 515.1 L272.7 513.8 L273.4 512.5 L274.1 511.1 L274.8 509.8 L275.5 508.5 L276.2 507.2 L276.9 505.8 L277.6 504.5 L278.3 503.2 L279 501.8 L279.7 500.5 L280.4 499.2 L281 497.8 L281.7 496.5 L282.4 495.2 L283.1 493.8 L283.8 492.5 L284.4 491.2 L285.1 489.8 L285.8 488.5 L286.5 487.2 L287.2 485.8 L287.9 484.5 L288.5 483.1 L289.2 481.8 L289.9 480.5 L290.6 479.1 L291.3 477.8 L292 476.5 L292.7 475.2 L293.4 473.8 L294.1 472.5 L294.8 471.2 L295.5 469.9 L296.2 468.5 L296.9 467.2 L297.6 465.9 L298.4 464.6 L299.1 463.3 L299.8 462 L300.6 460.7 L301.3 459.4 L302 458.1 L302.8 456.8 L303.6 455.5 L304.3 454.2 L305.1 452.9 L305.9 451.6 L306.7 450.4 L307.4 449.1 L308.2 447.8 L309 446.5 L309.8 445.3 L310.6 444 L311.4 442.7 L312.2 441.5 L313 440.2 L313.8 438.9 L314.5 437.7 L315.3 436.4 L316.1 435.1 L316.9 433.8 L317.6 432.5 L318.4 431.3 L319.1 430 L319.9 428.7 L320.6 427.4 L321.4 426.1 L322.1 424.8 L322.8 423.5 L323.5 422.2 L324.2 420.8 L324.8 419.5 L325.5 418.2 L326.2 416.8 L326.8 415.5 L327.5 414.2 L328.1 412.8 L328.7 411.5 L329.4 410.1 L330 408.8 L330.6 407.4 L331.2 406 L331.8 404.7 L332.4 403.3 L333 401.9 L333.5 400.5 L334.1 399.2 L334.7 397.8 L335.2 396.4 L335.8 395 L336.4 393.6 L336.9 392.2 L337.5 390.8 L338 389.5 L338.6 388.1 L339.1 386.7 L339.6 385.3 L340.2 383.9 L340.7 382.5 L341.3 381.1 L341.8 379.7 L342.3 378.3 L342.8 376.9 L343.4 375.5 L343.9 374.1 L344.4 372.7 L345 371.3 L345.5 369.8 L346 368.4 L346.6 367 L347.1 365.6 L347.6 364.2 L348.2 362.8 L348.7 361.4 L349.3 360 L349.8 358.6 L350.3 357.2 L350.9 355.9 L351.5 354.5 L352 353.1 L352.6 351.7 L353.1 350.3 L353.7 348.9 L354.3 347.5 L354.9 346.1 L355.4 344.8 L356 343.4 L356.6 342 L357.2 340.6 L357.9 339.3 L358.5 337.9 L359.1 336.5 L359.7 335.2 L360.4 333.8 L361 332.5 L361.7 331.1 L362.3 329.8 L363 328.5 L363.7 327.1 L364.3 325.8 L365 324.5 L365.7 323.1 L366.4 321.8 L367.1 320.5 L367.9 319.2 L368.6 317.9 L369.3 316.5 L370 315.2 L370.8 313.9 L371.5 312.6 L372.2 311.3 L373 310 L373.7 308.7 L374.4 307.4 L375.2 306.1 L375.9 304.8 L376.7 303.5 L377.4 302.2 L378.2 300.9 L378.9 299.6 L379.7 298.3 L380.4 297 L381.1 295.7 L381.9 294.4 L382.6 293.1 L383.4 291.8 L384.1 290.5 L384.8 289.2 L385.6 287.9 L386.3 286.6 L387 285.2 L387.7 283.9 L388.4 282.6 L389.1 281.3 L389.8 280 L390.5 278.6 L391.2 277.3 L391.9 276 L392.6 274.7 L393.2 273.3 L393.9 272 L394.6 270.7 L395.3 269.3 L395.9 268 L396.6 266.7 L397.3 265.3 L398 264 L398.7 262.7 L399.4 261.4 L400.1 260.1 L400.8 258.7 L401.5 257.4 L402.2 256.1 L403 254.8 L403.8 253.5 L404.5 252.3 L405.3 251 L406.1 249.7 L407 248.4 L407.8 247.2 L408.7 245.9 L409.6 244.7 L410.5 243.5 L411.4 242.3 L412.4 241.1 L413.4 239.9 L414.4 238.7 L415.4 237.6 L416.5 236.5 L417.5 235.4 L418.6 234.3 L419.7 233.3 L420.9 232.3 L422 231.4 L423.2 230.4 L424.4 229.6 L425.6 228.7 L426.9 227.9 L428.2 227.2 L429.5 226.4 L430.8 225.8 L432.1 225.2 L433.5 224.6 L434.8 224.1 L436.2 223.7 L437.6 223.3 L439 222.9 L440.5 222.6 L441.9 222.3 L443.4 222.1 L444.8 221.9 L446.3 221.8 L447.8 221.7 L449.3 221.7 L450.8 221.7 L452.3 221.7 L453.8 221.8 L455.3 221.9 L456.8 222.1 L458.3 222.3 L459.7 222.6 L461.2 222.9 L462.7 223.2 L464.2 223.6 L465.6 224 L467.1 224.4 L468.5 224.9 L469.9 225.4 L471.3 225.9 L472.7 226.5 L474.1 227.1 L475.5 227.8 L476.8 228.4 L478.1 229.2 L479.4 229.9 L480.7 230.7 L482 231.4 L483.3 232.3 L484.5 233.1 L485.8 234 L487 234.9 L488.2 235.8 L489.4 236.7 L490.5 237.7 L491.7 238.6 L492.8 239.6 L494 240.6 L495.1 241.6 L496.2 242.7 L497.2 243.7 L498.3 244.8 L499.4 245.9 L500.4 247 L501.4 248 L502.4 249.2 L503.4 250.3 L504.4 251.4 L505.4 252.5 L506.4 253.7 L507.3 254.8 L508.3 256 L509.2 257.1 L510.1 258.3 L511 259.5 L511.9 260.7 L512.8 261.9 L513.7 263.1 L514.6 264.3 L515.5 265.5 L516.3 266.7 L517.2 267.9 L518.1 269.1 L518.9 270.4 L519.7 271.6 L520.6 272.8 L521.4 274.1 L522.3 275.3 L523.1 276.5 L523.9 277.8 L524.7 279 L525.6 280.3 L526.4 281.5 L527.2 282.8 L528 284 L528.8 285.3 L529.6 286.5 L530.5 287.8 L531.3 289.1 L532.1 290.3 L532.9 291.6 L533.7 292.8 L534.5 294.1 L535.3 295.4 L536.1 296.6 L536.9 297.9 L537.7 299.2 L538.5 300.4 L539.3 301.7 L540 303 L540.8 304.3 L541.6 305.5 L542.4 306.8 L543.2 308.1 L543.9 309.4 L544.7 310.7 L545.5 311.9 L546.3 313.2 L547 314.5 L547.8 315.8 L548.6 317.1 L549.3 318.4 L550.1 319.7 L550.9 321 L551.6 322.3 L552.4 323.6 L553.1 324.9 L553.9 326.1 L554.6 327.4 L555.4 328.7 L556.1 330.1 L556.9 331.4 L557.6 332.7 L558.3 334 L559.1 335.3 L559.8 336.6 L560.5 337.9 L561.3 339.2 L562 340.5 L562.7 341.8 L563.4 343.1 L564.2 344.5 L564.9 345.8 L565.6 347.1 L566.3 348.4 L567 349.7 L567.7 351 L568.4 352.4 L569.1 353.7 L569.8 355 L570.5 356.3 L571.2 357.7 L571.9 359 L572.6 360.3 L573.3 361.7 L574 363 L574.7 364.3 L575.4 365.7 L576 367 L576.7 368.3 L577.4 369.7 L578.1 371 L578.7 372.3 L579.4 373.7 L580.1 375 L580.7 376.4 L581.4 377.7 L582.1 379.1 L582.7 380.4 L583.4 381.7 L584 383.1 L584.7 384.4 L585.3 385.8 L586 387.1 L586.6 388.5 L587.3 389.8 L587.9 391.2 L588.5 392.5 L589.2 393.9 L589.8 395.3 L590.4 396.6 L591.1 398 L591.7 399.3 L592.3 400.7 L592.9 402 L593.6 403.4 L594.2 404.8 L594.8 406.1 L595.4 407.5 L596 408.9 L596.6 410.2 L597.3 411.6 L597.9 413 L598.5 414.3 L599.1 415.7 L599.7 417.1 L600.3 418.4 L600.9 419.8 L601.5 421.2 L602.1 422.5 L602.7 423.9 L603.3 425.3 L603.9 426.7 L604.5 428 L605 429.4 L605.6 430.8 L606.2 432.2 L606.8 433.6 L607.4 434.9 L608 436.3 L608.5 437.7 L609.1 439.1 L609.7 440.4 L610.3 441.8 L610.8 443.2 L611.4 444.6 L612 446 L612.6 447.4 L613.1 448.7 L613.7 450.1 L614.3 451.5 L614.8 452.9 L615.4 454.3 L615.9 455.7 L616.5 457.1 L617.1 458.5 L617.6 459.8 L618.2 461.2 L618.7 462.6 L619.3 464 L619.9 465.4 L620.4 466.8 L621 468.2 L621.5 469.6 L622.1 471 L622.6 472.4 L623.2 473.8 L623.7 475.1 L624.2 476.5 L624.8 477.9 L625.3 479.3 L625.9 480.7 L626.4 482.1 L627 483.5 L627.5 484.9 L628 486.3 L628.6 487.7 L629.1 489.1 L629.7 490.5 L630.2 491.9 L630.7 493.3 L631.3 494.7 L631.8 496.1 L632.3 497.5 L632.9 498.9 L633.4 500.3 L633.9 501.7 L634.5 503.1 L635 504.5 L635.5 505.9 L636 507.3 L636.6 508.7 L637.1 510.1 L637.6 511.5 L638.2 512.9 L638.7 514.3 L639.2 515.7 L639.7 517.1 L640.3 518.5 L640.8 519.9 L641.3 521.3 L641.8 522.7 L642.4 524.1 L642.9 525.5 L643.4 526.9 L643.9 528.3 L644.5 529.7 L645 531.1 L645.5 532.5 L646 533.9 L646.5 535.3 L647.1 536.7 L647.6 538.1 L648.1 539.5 L648.6 541 L649.2 542.4 L649.7 543.8 L650.2 545.2 L650.7 546.6 L651.2 548 L651.8 549.4 L652.3 550.8 L652.8 552.2 L653.3 553.6 L653.9 555 L654.4 556.4 L654.9 557.8 L655.4 559.2 L655.9 560.6 L656.5 562 L657 563.4 L657.5 564.8 L658 566.2 L658.6 567.6 L659.1 569 L659.6 570.4 L660.1 571.8 L660.6 573.2 L661.2 574.6 L661.7 576" stroke="#f26c45" stroke-width="3.6" fill="none" stroke-linejoin="round" stroke-linecap="butt"/>
<path d="M97 565 L97.8 566.3 L98.6 567.5 L99.5 568.8 L100.3 570 L101.1 571.3 L101.9 572.5 L102.7 573.8 L103.6 575 L104.4 576.2 L105.2 577.5 L106.1 578.7 L106.9 580 L107.7 581.2 L108.6 582.5 L109.4 583.7 L110.2 584.9 L111.1 586.2 L111.9 587.4 L112.7 588.7 L113.6 589.9 L114.4 591.1 L115.3 592.4 L116.1 593.6 L116.9 594.8 L117.8 596.1 L118.6 597.3 L119.5 598.5 L120.3 599.8 L121.2 601 L122 602.2 L122.9 603.5 L123.7 604.7 L124.6 605.9 L125.4 607.1 L126.3 608.4 L127.2 609.6 L128 610.8 L128.9 612.1 L129.7 613.3 L130.6 614.5 L131.4 615.7 L132.3 617 L133.1 618.2 L134 619.4 L134.9 620.6 L135.7 621.9 L136.6 623.1 L137.4 624.3 L138.3 625.5 L139.2 626.8 L140 628 L140.9 629.2 L141.7 630.5 L142.6 631.7 L143.5 632.9 L144.3 634.1 L145.2 635.4 L146.1 636.6 L146.9 637.8 L147.8 639 L148.6 640.3 L149.5 641.5 L150.4 642.7 L151.2 643.9 L152.1 645.2 L153 646.4 L153.8 647.6 L154.7 648.9 L155.5 650.1 L156.4 651.3 L157.3 652.5 L158.1 653.8 L159 655 L159.8 656.2 L160.7 657.5 L161.6 658.7 L162.4 659.9 L163.3 661.1 L164.2 662.4 L165.1 663.6 L165.9 664.8 L166.8 666 L167.7 667.2 L168.6 668.4 L169.5 669.6 L170.4 670.8 L171.4 671.9 L172.3 673.1 L173.2 674.3 L174.2 675.4 L175.2 676.5 L176.1 677.7 L177.1 678.8 L178.1 679.9 L179.1 681 L180.1 682.1 L181.2 683.2 L182.2 684.2 L183.3 685.3 L184.4 686.3 L185.5 687.3 L186.6 688.3 L187.7 689.3 L188.9 690.3 L190.1 691.2 L191.2 692.2 L192.5 693.1 L193.7 694 L194.9 694.9 L196.2 695.7 L197.5 696.6 L198.8 697.4 L200.1 698.2 L201.5 698.9 L202.8 699.6 L204.2 700.3 L205.6 701 L207 701.6 L208.4 702.1 L209.8 702.6 L211.2 703.1 L212.6 703.5 L214 703.8 L215.5 704.1 L216.9 704.3 L218.3 704.4 L219.7 704.5 L221.1 704.4 L222.5 704.4 L223.9 704.2 L225.3 703.9 L226.7 703.6 L228.1 703.2 L229.4 702.7 L230.8 702.1 L232.1 701.5 L233.4 700.8 L234.7 700.1 L236 699.3 L237.3 698.5 L238.6 697.6 L239.8 696.7 L241 695.8 L242.3 694.8 L243.4 693.8 L244.6 692.8 L245.8 691.8 L246.9 690.8 L248 689.7 L249.1 688.7 L250.2 687.6 L251.2 686.5 L252.3 685.4 L253.3 684.3 L254.3 683.2 L255.3 682.1 L256.3 680.9 L257.2 679.8 L258.2 678.6 L259.1 677.4 L260 676.2 L260.9 675 L261.8 673.8 L262.7 672.6 L263.5 671.3 L264.4 670.1 L265.2 668.9 L266 667.6 L266.8 666.3 L267.6 665.1 L268.4 663.8 L269.1 662.5 L269.9 661.2 L270.6 659.9 L271.4 658.6 L272.1 657.3 L272.8 656 L273.5 654.6 L274.2 653.3 L274.9 652 L275.6 650.6 L276.3 649.3 L276.9 647.9 L277.6 646.6 L278.2 645.2 L278.9 643.9 L279.5 642.5 L280.1 641.1 L280.8 639.8 L281.4 638.4 L282 637 L282.6 635.7 L283.2 634.3 L283.8 632.9 L284.4 631.5 L285 630.1 L285.6 628.8 L286.1 627.4 L286.7 626 L287.3 624.6 L287.8 623.2 L288.4 621.8 L288.9 620.4 L289.5 619 L290 617.7 L290.6 616.3 L291.1 614.9 L291.6 613.5 L292.1 612.1 L292.6 610.7 L293.2 609.2 L293.7 607.8 L294.2 606.4 L294.7 605 L295.2 603.6 L295.7 602.2 L296.1 600.8 L296.6 599.4 L297.1 598 L297.6 596.5 L298 595.1 L298.5 593.7 L299 592.3 L299.4 590.9 L299.9 589.4 L300.3 588 L300.8 586.6 L301.2 585.1 L301.7 583.7 L302.1 582.3 L302.5 580.9 L303 579.4 L303.4 578 L303.8 576.6 L304.2 575.1 L304.7 573.7 L305.1 572.2 L305.5 570.8 L305.9 569.4 L306.3 567.9 L306.7 566.5 L307.1 565 L307.5 563.6 L307.9 562.2 L308.3 560.7 L308.7 559.3 L309 557.8 L309.4 556.4 L309.8 554.9 L310.2 553.5 L310.6 552 L310.9 550.6 L311.3 549.1 L311.7 547.7 L312 546.2 L312.4 544.8 L312.8 543.3 L313.1 541.8 L313.5 540.4 L313.8 538.9 L314.2 537.5 L314.5 536 L314.9 534.6 L315.2 533.1 L315.6 531.6 L315.9 530.2 L316.3 528.7 L316.6 527.3 L317 525.8 L317.3 524.3 L317.6 522.9 L318 521.4 L318.3 519.9 L318.7 518.5 L319 517 L319.3 515.6 L319.7 514.1 L320 512.6 L320.3 511.2 L320.6 509.7 L321 508.2 L321.3 506.8 L321.6 505.3 L322 503.8 L322.3 502.4 L322.6 500.9 L322.9 499.4 L323.3 498 L323.6 496.5 L323.9 495 L324.2 493.6 L324.6 492.1 L324.9 490.6 L325.2 489.2 L325.5 487.7 L325.9 486.2 L326.2 484.8 L326.5 483.3 L326.8 481.8 L327.2 480.4 L327.5 478.9 L327.8 477.5 L328.1 476 L328.5 474.5 L328.8 473.1 L329.1 471.6 L329.4 470.1 L329.8 468.7 L330.1 467.2 L330.4 465.7 L330.7 464.3 L331.1 462.8 L331.4 461.4 L331.7 459.9 L332.1 458.4 L332.4 457 L332.7 455.5 L333.1 454 L333.4 452.6 L333.7 451.1 L334.1 449.7 L334.4 448.2 L334.7 446.7 L335.1 445.3 L335.4 443.8 L335.7 442.4 L336.1 440.9 L336.4 439.4 L336.8 438 L337.1 436.5 L337.4 435.1 L337.8 433.6 L338.1 432.2 L338.5 430.7 L338.8 429.2 L339.2 427.8 L339.5 426.3 L339.9 424.9 L340.2 423.4 L340.5 422 L340.9 420.5 L341.2 419 L341.6 417.6 L341.9 416.1 L342.3 414.7 L342.6 413.2 L343 411.8 L343.4 410.3 L343.7 408.9 L344.1 407.4 L344.4 406 L344.8 404.5 L345.1 403.1 L345.5 401.6 L345.9 400.1 L346.2 398.7 L346.6 397.2 L346.9 395.8 L347.3 394.3 L347.7 392.9 L348 391.4 L348.4 390 L348.8 388.5 L349.1 387.1 L349.5 385.6 L349.9 384.2 L350.3 382.7 L350.6 381.3 L351 379.8 L351.4 378.4 L351.7 377 L352.1 375.5 L352.5 374.1 L352.9 372.6 L353.3 371.2 L353.6 369.7 L354 368.3 L354.4 366.8 L354.8 365.4 L355.2 363.9 L355.6 362.5 L356 361 L356.3 359.6 L356.7 358.2 L357.1 356.7 L357.5 355.3 L357.9 353.8 L358.3 352.4 L358.7 350.9 L359.1 349.5 L359.5 348.1 L359.9 346.6 L360.3 345.2 L360.7 343.7 L361.1 342.3 L361.5 340.9 L361.9 339.4 L362.3 338 L362.8 336.5 L363.2 335.1 L363.6 333.7 L364 332.2 L364.4 330.8 L364.8 329.4 L365.2 327.9 L365.7 326.5 L366.1 325 L366.5 323.6 L366.9 322.2 L367.4 320.7 L367.8 319.3 L368.2 317.9 L368.6 316.4 L369.1 315 L369.5 313.6 L370 312.1 L370.4 310.7 L370.8 309.3 L371.3 307.8 L371.7 306.4 L372.2 305 L372.6 303.6 L373.1 302.1 L373.5 300.7 L374 299.3 L374.5 297.9 L374.9 296.4 L375.4 295 L375.9 293.6 L376.4 292.2 L376.9 290.8 L377.4 289.3 L377.9 287.9 L378.4 286.5 L378.9 285.1 L379.4 283.7 L379.9 282.3 L380.4 280.9 L381 279.5 L381.5 278.1 L382 276.7 L382.6 275.3 L383.1 273.9 L383.7 272.5 L384.3 271.1 L384.8 269.7 L385.4 268.3 L386 266.9 L386.6 265.6 L387.2 264.2 L387.8 262.8 L388.4 261.4 L389.1 260 L389.7 258.7 L390.3 257.3 L391 255.9 L391.6 254.6 L392.3 253.2 L393 251.9 L393.7 250.5 L394.4 249.2 L395.1 247.8 L395.8 246.5 L396.5 245.1 L397.2 243.8 L398 242.5 L398.7 241.1 L399.5 239.8 L400.3 238.5 L401.1 237.3 L401.9 236 L402.7 234.8 L403.6 233.6 L404.5 232.4 L405.4 231.2 L406.3 230.1 L407.3 229 L408.3 227.9 L409.3 226.9 L410.4 226 L411.4 225.1 L412.6 224.2 L413.7 223.4 L414.9 222.6 L416.1 221.9 L417.4 221.2 L418.7 220.6 L420 220.1 L421.4 219.7 L422.9 219.3 L424.4 219 L425.9 218.7 L427.5 218.5 L429 218.4 L430.6 218.4 L432.2 218.4 L433.8 218.6 L435.4 218.7 L436.9 219 L438.4 219.3 L439.9 219.6 L441.4 220.1 L442.8 220.6 L444.1 221.1 L445.5 221.7 L446.8 222.4 L448 223.1 L449.3 223.8 L450.5 224.6 L451.7 225.5 L452.9 226.3 L454 227.2 L455.1 228.2 L456.2 229.2 L457.3 230.2 L458.4 231.2 L459.4 232.3 L460.5 233.3 L461.5 234.4 L462.5 235.5 L463.5 236.7 L464.5 237.8 L465.5 238.9 L466.5 240.1 L467.5 241.2 L468.5 242.4 L469.5 243.6 L470.5 244.7 L471.6 245.8 L472.6 247 L473.6 248.1 L474.6 249.2 L475.7 250.3 L476.7 251.4 L477.7 252.5 L478.8 253.6 L479.8 254.7 L480.9 255.8 L481.9 256.9 L483 258 L484 259 L485.1 260.1 L486.2 261.2 L487.2 262.2 L488.3 263.3 L489.3 264.4 L490.4 265.4 L491.4 266.5 L492.5 267.6 L493.5 268.7 L494.6 269.7 L495.6 270.8 L496.7 271.9 L497.7 273 L498.7 274 L499.7 275.1 L500.8 276.2 L501.8 277.3 L502.8 278.4 L503.8 279.5 L504.8 280.7 L505.8 281.8 L506.8 282.9 L507.7 284 L508.7 285.1 L509.7 286.3 L510.6 287.4 L511.6 288.6 L512.6 289.7 L513.5 290.9 L514.4 292 L515.4 293.2 L516.3 294.3 L517.2 295.5 L518.2 296.7 L519.1 297.9 L520 299 L520.9 300.2 L521.8 301.4 L522.7 302.6 L523.6 303.8 L524.5 305 L525.4 306.2 L526.2 307.4 L527.1 308.6 L528 309.8 L528.8 311 L529.7 312.3 L530.6 313.5 L531.4 314.7 L532.2 315.9 L533.1 317.2 L533.9 318.4 L534.8 319.7 L535.6 320.9 L536.4 322.1 L537.2 323.4 L538 324.6 L538.8 325.9 L539.6 327.2 L540.5 328.4 L541.2 329.7 L542 331 L542.8 332.2 L543.6 333.5 L544.4 334.8 L545.2 336.1 L545.9 337.3 L546.7 338.6 L547.5 339.9 L548.2 341.2 L549 342.5 L549.7 343.8 L550.5 345.1 L551.2 346.4 L552 347.7 L552.7 349 L553.4 350.3 L554.2 351.6 L554.9 352.9 L555.6 354.2 L556.3 355.6 L557 356.9 L557.7 358.2 L558.4 359.5 L559.2 360.8 L559.8 362.2 L560.5 363.5 L561.2 364.8 L561.9 366.2 L562.6 367.5 L563.3 368.8 L564 370.2 L564.6 371.5 L565.3 372.8 L566 374.2 L566.7 375.5 L567.3 376.9 L568 378.2 L568.6 379.6 L569.3 380.9 L569.9 382.3 L570.6 383.6 L571.2 385 L571.9 386.3 L572.5 387.7 L573.1 389 L573.8 390.4 L574.4 391.8 L575 393.1 L575.6 394.5 L576.3 395.9 L576.9 397.2 L577.5 398.6 L578.1 399.9 L578.7 401.3 L579.3 402.7 L579.9 404.1 L580.5 405.4 L581.1 406.8 L581.7 408.2 L582.3 409.5 L582.9 410.9 L583.5 412.3 L584.1 413.7 L584.6 415.1 L585.2 416.4 L585.8 417.8 L586.4 419.2 L586.9 420.6 L587.5 422 L588.1 423.4 L588.7 424.7 L589.2 426.1 L589.8 427.5 L590.3 428.9 L590.9 430.3 L591.4 431.7 L592 433.1 L592.5 434.5 L593.1 435.9 L593.6 437.3 L594.2 438.6 L594.7 440 L595.2 441.4 L595.8 442.8 L596.3 444.2 L596.8 445.6 L597.4 447 L597.9 448.4 L598.4 449.8 L598.9 451.2 L599.5 452.6 L600 454.1 L600.5 455.5 L601 456.9 L601.5 458.3 L602 459.7 L602.5 461.1 L603 462.5 L603.5 463.9 L604 465.3 L604.5 466.7 L605 468.1 L605.5 469.6 L606 471 L606.5 472.4 L607 473.8 L607.5 475.2 L608 476.6 L608.5 478 L609 479.5 L609.4 480.9 L609.9 482.3 L610.4 483.7 L610.9 485.1 L611.4 486.6 L611.8 488 L612.3 489.4 L612.8 490.8 L613.2 492.2 L613.7 493.7 L614.2 495.1 L614.6 496.5 L615.1 497.9 L615.6 499.4 L616 500.8 L616.5 502.2 L616.9 503.6 L617.4 505.1 L617.9 506.5 L618.3 507.9 L618.8 509.4 L619.2 510.8 L619.7 512.2 L620.1 513.6 L620.6 515.1 L621 516.5 L621.5 517.9 L621.9 519.4 L622.3 520.8 L622.8 522.2 L623.2 523.7 L623.7 525.1 L624.1 526.5 L624.5 528 L625 529.4 L625.4 530.8 L625.9 532.3 L626.3 533.7 L626.7 535.2 L627.2 536.6 L627.6 538 L628 539.5 L628.4 540.9 L628.9 542.3 L629.3 543.8 L629.7 545.2 L630.2 546.7 L630.6 548.1 L631 549.5 L631.4 551 L631.9 552.4 L632.3 553.9 L632.7 555.3 L633.1 556.7 L633.5 558.2 L634 559.6 L634.4 561.1 L634.8 562.5 L635.2 563.9 L635.6 565.4 L636 566.8 L636.5 568.3 L636.9 569.7 L637.3 571.1 L637.7 572.6 L638.1 574 L638.5 575.5 L639 576.9 L639.4 578.3 L639.8 579.8 L640.2 581.2 L640.6 582.7 L641 584.1 L641.4 585.6 L641.8 587 L642.3 588.4 L642.7 589.9 L643.1 591.3 L643.5 592.8 L643.9 594.2 L644.3 595.7 L644.7 597.1 L645.1 598.5 L645.5 600 L646 601.4 L646.4 602.9 L646.8 604.3 L647.2 605.8 L647.6 607.2 L648 608.6 L648.4 610.1 L648.8 611.5 L649.2 613 L649.6 614.4 L650.1 615.8 L650.5 617.3 L650.9 618.7 L651.3 620.2 L651.7 621.6 L652.1 623 L652.5 624.5 L652.9 625.9 L653.4 627.4 L653.8 628.8 L654.2 630.2 L654.6 631.7 L655 633.1 L655.4 634.6 L655.8 636 L656.3 637.4 L656.7 638.9 L657.1 640.3 L657.5 641.7 L657.9 643.2 L658.3 644.6 L658.8 646.1 L659.2 647.5 L659.6 648.9 L660 650.4 L660.4 651.8 L660.9 653.2 L661.3 654.7 L661.7 656.1" stroke="#f2bb0d" stroke-width="3.6" fill="none" stroke-linejoin="round" stroke-linecap="butt"/>
<path d="M97 725 v-7.5 M97 32.5 v7.5 M252 725 v-7.5 M252 32.5 v7.5 M407 725 v-7.5 M407 32.5 v7.5 M562 725 v-7.5 M562 32.5 v7.5 M717 725 v-7.5 M717 32.5 v7.5 M97 725 h7.5 M717 725 h-7.5 M97 609.6 h7.5 M717 609.6 h-7.5 M97 494.2 h7.5 M717 494.2 h-7.5 M97 378.8 h7.5 M717 378.8 h-7.5 M97 263.3 h7.5 M717 263.3 h-7.5 M97 147.9 h7.5 M717 147.9 h-7.5 M97 32.5 h7.5 M717 32.5 h-7.5" stroke="#262626" stroke-width="2.2" fill="none"/>
<rect x="97" y="32.5" width="620" height="692.5" fill="none" stroke="#303030" stroke-width="2.8"/>
<text x="97" y="757" class="tk" text-anchor="middle">0</text>
<text x="252" y="757" class="tk" text-anchor="middle">100</text>
<text x="407" y="757" class="tk" text-anchor="middle">200</text>
<text x="562" y="757" class="tk" text-anchor="middle">300</text>
<text x="717" y="757" class="tk" text-anchor="middle">400</text>
<text x="88.8" y="734.3" class="tk" text-anchor="end">0</text>
<text x="88.8" y="618.9" class="tk" text-anchor="end">50</text>
<text x="88.8" y="503.5" class="tk" text-anchor="end">100</text>
<text x="88.8" y="388.1" class="tk" text-anchor="end">150</text>
<text x="88.8" y="272.6" class="tk" text-anchor="end">200</text>
<text x="88.8" y="157.2" class="tk" text-anchor="end">250</text>
<text x="88.8" y="41.8" class="tk" text-anchor="end">300</text>
<text x="407" y="790" class="al" text-anchor="middle">Prediction interval [d]</text>
<text transform="translate(40 378.2) rotate(-90)" class="yl" text-anchor="middle">PMX [mas]</text>
<path d="M562 43.2 h47" stroke="#0a4f9c" stroke-width="3.9"/>
<text x="614" y="50.6" class="lg" textLength="93.5" lengthAdjust="spacingAndGlyphs">True Value</text>
<path d="M562 65.5 h47" stroke="#464c6c" stroke-width="3.9"/>
<text x="614" y="72.9" class="lg" textLength="17.3" lengthAdjust="spacingAndGlyphs">6y</text>
<path d="M562 87.8 h47" stroke="#52c6c2" stroke-width="3.9"/>
<text x="614" y="95.2" class="lg" textLength="17.6" lengthAdjust="spacingAndGlyphs">8y</text>
<path d="M562 110.1 h47" stroke="#607449" stroke-width="3.9"/>
<text x="614" y="117.5" class="lg" textLength="26.4" lengthAdjust="spacingAndGlyphs">10y</text>
<path d="M562 132.4 h47" stroke="#f26c45" stroke-width="3.9"/>
<text x="614" y="139.8" class="lg" textLength="25.8" lengthAdjust="spacingAndGlyphs">12y</text>
<path d="M562 154.7 h47" stroke="#f2bb0d" stroke-width="3.9"/>
<text x="614" y="162.1" class="lg" textLength="80.5" lengthAdjust="spacingAndGlyphs">VLBI-10y</text>
<path d="M1067.1 32.5 V725 M1221.8 32.5 V725 M1376.4 32.5 V725" stroke="#e0e0e0" stroke-width="2.4" stroke-dasharray="9.5 9.4" stroke-dashoffset="-4.5" fill="none"/>
<path d="M912.5 609.6 H1531 M912.5 494.2 H1531 M912.5 378.8 H1531 M912.5 263.3 H1531 M912.5 147.9 H1531" stroke="#e2e2e2" stroke-width="2.3" stroke-dasharray="12 6.5" stroke-dashoffset="4.8" fill="none"/>
<path d="M912.8 488 C913.7 486.7 916 482.8 918 480 C920 477.2 922.7 474.1 924.6 471.2 C926.5 468.3 928 465.3 929.6 462.4 C931.2 459.4 932.9 456 934.5 453.5 C936.1 451 937.8 449.7 939.4 447.6 C941 445.5 942.6 443.3 944.3 440.7 C945.9 438.1 947.8 434.6 949.3 431.8 C950.8 429 951.7 427 953.2 423.9 C954.7 420.8 956 418.4 958.2 413 C960.4 407.6 963.2 398.5 966.3 391.3 C969.4 384.1 973.2 376.3 976.6 370 C980 363.7 983.4 358.5 986.8 353.5 C990.2 348.5 994.6 342.8 997 340.2 C999.4 337.6 998.4 343.2 1001.1 338.1 C1003.8 333 1009.3 319 1013.4 309.5 C1017.5 300 1021.8 289.4 1025.6 280.9 C1029.3 272.4 1033.2 264.2 1035.9 258.4 C1038.6 252.6 1039.3 249.5 1042 246 C1044.7 242.5 1048.8 240.9 1052.2 237.4 C1055.6 233.9 1059 229.6 1062.4 225.2 C1065.8 220.8 1069.6 215 1072.7 210.9 C1075.8 206.8 1078.4 204 1080.8 200.6 C1083.2 197.2 1083.9 193.8 1087 190.4 C1090.1 187 1095.5 183.9 1099.3 180.2 C1103 176.4 1106.4 171.7 1109.5 167.9 C1112.6 164.2 1115 159.7 1117.7 157.7 C1120.4 155.7 1122.7 155.7 1125.8 155.7 C1128.9 155.7 1132 156 1136.1 157.7 C1140.2 159.4 1146.3 162.5 1150.4 165.9 C1154.5 169.3 1157.2 175 1160.6 178.1 C1164 181.2 1167.4 181.2 1170.8 184.3 C1174.2 187.4 1177.6 191.8 1181 196.6 C1184.4 201.4 1187.9 207.4 1191.3 212.9 C1194.7 218.4 1198.1 223.8 1201.5 229.3 C1204.9 234.8 1209.5 242.5 1211.7 246 C1214 249.5 1212.4 246.1 1215 250.2 C1217.6 254.3 1223.2 262.2 1227.3 270.7 C1231.4 279.2 1235.1 291.4 1239.5 301.3 C1243.9 311.2 1249.8 320.4 1253.9 330 C1258 339.6 1260.7 349.8 1264.1 358.6 C1267.5 367.5 1271.2 375.2 1274.3 383.1 C1277.4 391 1279.8 398.1 1282.5 406 C1285.2 413.9 1287.3 421.5 1290.7 430.7 C1294.1 439.9 1298.8 451.8 1302.9 461.3 C1307 470.8 1311.5 479.7 1315.2 487.9 C1319 496.1 1322 502.5 1325.4 510.4 C1328.8 518.2 1332.2 526.5 1335.6 535 C1339 543.5 1343.2 555.3 1345.9 561.5 C1348.6 567.7 1349.3 569.1 1352 572.3 C1354.7 575.4 1358.5 576.3 1362.2 580.4 C1366 584.5 1370.4 592.7 1374.5 596.8 C1378.6 600.9 1382.7 601.6 1386.8 605 C1390.9 608.4 1394.9 614.6 1399 617.3 C1403.1 620 1407.2 622 1411.3 621.3 C1415.4 620.6 1420.2 616.6 1423.6 613.2 C1427 609.8 1427.6 604.6 1431.7 600.9 C1435.8 597.1 1443.3 594.1 1448.1 590.7 C1452.9 587.3 1456.7 584.8 1460.4 580.4 C1464.2 576 1467.9 569.1 1470.6 564.1 C1473.3 559.1 1475.7 552.6 1476.7 550.3" stroke="#0a4f9c" stroke-width="3.6" fill="none" stroke-linejoin="round" stroke-linecap="butt"/>
<path d="M912.8 488 C914 485 917.1 476.7 920 470 C922.9 463.3 926.4 455.2 930 448 C933.6 440.8 939.1 430.8 941.8 426.6 C944.5 422.4 944.2 425.1 946.3 423 C948.3 420.9 950.4 419.3 954.1 414 C957.8 408.7 964.6 396.8 968.4 391.3 C972.1 385.8 973.5 384.7 976.6 381 C979.7 377.3 983.7 371.8 986.8 368.9 C989.9 366 991.9 366.1 995 363.7 C998.1 361.3 1001.1 357.7 1005.2 354.5 C1009.3 351.3 1016.2 346.5 1019.5 344.3 C1022.8 342.1 1021.6 342.9 1024.7 341.5 C1027.8 340.1 1034.5 338.1 1038.3 336.1 C1042.1 334.1 1044.4 332.5 1047.8 329.3 C1051.2 326.1 1055.4 321.1 1058.6 317.1 C1061.8 313.1 1064.6 309.1 1067 305.5 C1069.4 301.9 1070.7 299.6 1073.2 295.3 C1075.7 291 1079.5 284.6 1082.1 279.8 C1084.7 275 1086.8 270.4 1088.8 266.5 C1090.8 262.6 1092.1 260.3 1094.3 256.6 C1096.5 252.9 1099.7 247.7 1102.1 244.4 C1104.5 241.1 1106.5 239.8 1108.7 236.6 C1110.9 233.4 1112.8 229.4 1115.3 225.5 C1117.8 221.6 1121 216.7 1123.8 212.9 C1126.6 209.1 1128.9 206.1 1132 202.7 C1135.1 199.3 1138.5 196.2 1142.2 192.5 C1146 188.8 1150.1 183.3 1154.5 180.2 C1158.9 177.1 1164.7 176.8 1168.8 174.1 C1172.9 171.4 1175.2 167.2 1179 163.8 C1182.8 160.4 1187.2 156 1191.3 153.6 C1195.4 151.2 1199.4 151 1203.5 149.5 C1207.6 148 1210.5 145.6 1215.8 144.4 C1221.1 143.2 1229.4 142.7 1235.4 142.4 C1241.4 142.1 1246.7 142.9 1251.8 142.4 C1256.9 141.9 1261 139.8 1266.1 139.3 C1271.2 138.8 1277.4 138.8 1282.5 139.3 C1287.6 139.8 1292.7 142.1 1296.8 142.4 C1300.9 142.7 1302.6 141.5 1307 141.3 C1311.4 141.1 1317.6 141.1 1323.4 141.3 C1329.2 141.5 1336.7 141.4 1341.8 142.4 C1346.9 143.4 1349.9 146.2 1354 147.5 C1358.1 148.8 1362.2 149.8 1366.3 150.5 C1370.4 151.2 1373.1 151.2 1378.6 151.6 C1384 151.9 1392.2 152.6 1399 152.6 C1405.8 152.6 1411 151.1 1419.5 151.6 C1428 152.1 1440.6 154.5 1450.1 155.7 C1459.6 156.9 1472.3 158.4 1476.7 159" stroke="#464c6c" stroke-width="3.6" fill="none" stroke-linejoin="round" stroke-linecap="butt"/>
<path d="M912.8 486 L913.4 484.6 L913.9 483.2 L914.5 481.8 L915 480.4 L915.6 479.1 L916.1 477.7 L916.7 476.3 L917.2 474.9 L917.8 473.5 L918.4 472.1 L918.9 470.7 L919.5 469.3 L920 467.9 L920.6 466.5 L921.1 465.2 L921.7 463.8 L922.2 462.4 L922.8 461 L923.4 459.6 L923.9 458.2 L924.5 456.8 L925 455.4 L925.6 454 L926.1 452.6 L926.7 451.2 L927.2 449.8 L927.8 448.4 L928.3 447 L928.9 445.7 L929.5 444.3 L930 442.9 L930.6 441.5 L931.1 440.1 L931.7 438.7 L932.2 437.3 L932.8 435.9 L933.3 434.5 L933.9 433.1 L934.4 431.7 L935 430.3 L935.6 428.9 L936.1 427.5 L936.7 426.1 L937.2 424.7 L937.8 423.3 L938.3 421.9 L938.9 420.5 L939.4 419.1 L940 417.7 L940.6 416.3 L941.1 415 L941.7 413.6 L942.2 412.2 L942.8 410.8 L943.3 409.4 L943.9 408 L944.5 406.6 L945 405.2 L945.6 403.8 L946.1 402.4 L946.7 401 L947.2 399.6 L947.8 398.2 L948.3 396.8 L948.9 395.4 L949.5 394 L950 392.6 L950.6 391.2 L951.1 389.8 L951.7 388.4 L952.3 387 L952.8 385.7 L953.4 384.3 L953.9 382.9 L954.5 381.5 L955.1 380.1 L955.6 378.7 L956.2 377.3 L956.7 375.9 L957.3 374.5 L957.9 373.1 L958.4 371.7 L959 370.3 L959.5 368.9 L960.1 367.5 L960.7 366.2 L961.2 364.8 L961.8 363.4 L962.3 362 L962.9 360.6 L963.5 359.2 L964 357.8 L964.6 356.4 L965.2 355 L965.7 353.7 L966.3 352.3 L966.9 350.9 L967.4 349.5 L968 348.1 L968.5 346.7 L969.1 345.3 L969.7 343.9 L970.2 342.6 L970.8 341.2 L971.4 339.8 L971.9 338.4 L972.5 337 L973.1 335.6 L973.6 334.3 L974.2 332.9 L974.8 331.5 L975.4 330.1 L975.9 328.7 L976.5 327.4 L977.1 326 L977.6 324.6 L978.2 323.2 L978.8 321.8 L979.3 320.5 L979.9 319.1 L980.5 317.7 L981.1 316.3 L981.6 315 L982.2 313.6 L982.8 312.2 L983.4 310.8 L983.9 309.5 L984.5 308.1 L985.1 306.7 L985.7 305.3 L986.3 304 L986.8 302.6 L987.4 301.2 L988 299.9 L988.6 298.5 L989.2 297.1 L989.8 295.8 L990.4 294.4 L991 293 L991.6 291.7 L992.2 290.3 L992.8 288.9 L993.4 287.6 L994 286.2 L994.6 284.9 L995.2 283.5 L995.8 282.1 L996.4 280.8 L997 279.4 L997.7 278.1 L998.3 276.7 L998.9 275.4 L999.6 274 L1000.2 272.6 L1000.8 271.3 L1001.5 269.9 L1002.1 268.6 L1002.8 267.2 L1003.4 265.9 L1004.1 264.5 L1004.7 263.2 L1005.4 261.9 L1006 260.5 L1006.7 259.2 L1007.4 257.8 L1008.1 256.5 L1008.7 255.1 L1009.4 253.8 L1010.1 252.5 L1010.8 251.1 L1011.5 249.8 L1012.2 248.5 L1012.9 247.1 L1013.6 245.8 L1014.4 244.5 L1015.1 243.1 L1015.8 241.8 L1016.5 240.5 L1017.3 239.1 L1018 237.8 L1018.8 236.5 L1019.5 235.2 L1020.3 233.8 L1021 232.5 L1021.8 231.2 L1022.6 229.9 L1023.4 228.6 L1024.1 227.3 L1024.9 225.9 L1025.7 224.6 L1026.5 223.3 L1027.4 222 L1028.2 220.7 L1029 219.4 L1029.8 218.1 L1030.7 216.8 L1031.5 215.5 L1032.4 214.2 L1033.3 213 L1034.2 211.8 L1035.1 210.6 L1036.1 209.4 L1037.1 208.3 L1038.1 207.2 L1039.1 206.2 L1040.2 205.2 L1041.3 204.3 L1042.5 203.4 L1043.7 202.6 L1045 201.9 L1046.3 201.2 L1047.7 200.6 L1049.1 200.1 L1050.5 199.7 L1052 199.3 L1053.5 199.1 L1055 198.8 L1056.4 198.7 L1057.9 198.6 L1059.3 198.6 L1060.7 198.7 L1062.1 198.8 L1063.5 199 L1064.8 199.2 L1066.2 199.5 L1067.5 199.9 L1068.8 200.3 L1070.1 200.7 L1071.4 201.3 L1072.6 201.8 L1073.9 202.4 L1075.1 203.1 L1076.3 203.8 L1077.5 204.5 L1078.7 205.3 L1079.8 206.1 L1081 207 L1082.1 207.9 L1083.2 208.8 L1084.3 209.8 L1085.4 210.8 L1086.5 211.8 L1087.6 212.9 L1088.6 214 L1089.6 215.1 L1090.7 216.3 L1091.7 217.4 L1092.7 218.6 L1093.7 219.8 L1094.6 221 L1095.6 222.2 L1096.5 223.5 L1097.5 224.7 L1098.4 226 L1099.3 227.3 L1100.2 228.6 L1101.1 229.9 L1102 231.2 L1102.9 232.5 L1103.7 233.8 L1104.6 235.1 L1105.4 236.4 L1106.3 237.7 L1107.1 239 L1107.9 240.3 L1108.7 241.6 L1109.5 243 L1110.3 244.3 L1111 245.6 L1111.8 246.9 L1112.6 248.2 L1113.3 249.6 L1114.1 250.9 L1114.8 252.2 L1115.5 253.6 L1116.2 254.9 L1116.9 256.2 L1117.6 257.6 L1118.3 258.9 L1119 260.2 L1119.7 261.6 L1120.4 262.9 L1121 264.3 L1121.7 265.6 L1122.3 267 L1123 268.3 L1123.6 269.7 L1124.2 271 L1124.9 272.4 L1125.5 273.8 L1126.1 275.1 L1126.7 276.5 L1127.3 277.8 L1127.9 279.2 L1128.4 280.6 L1129 281.9 L1129.6 283.3 L1130.2 284.7 L1130.7 286 L1131.3 287.4 L1131.8 288.8 L1132.4 290.2 L1132.9 291.6 L1133.4 292.9 L1134 294.3 L1134.5 295.7 L1135 297.1 L1135.5 298.5 L1136 299.9 L1136.6 301.2 L1137.1 302.6 L1137.6 304 L1138.1 305.4 L1138.5 306.8 L1139 308.2 L1139.5 309.6 L1140 311 L1140.5 312.4 L1141 313.8 L1141.4 315.2 L1141.9 316.6 L1142.4 318 L1142.8 319.4 L1143.3 320.8 L1143.8 322.2 L1144.2 323.6 L1144.7 325 L1145.1 326.4 L1145.6 327.9 L1146 329.3 L1146.5 330.7 L1146.9 332.1 L1147.4 333.5 L1147.8 334.9 L1148.2 336.3 L1148.7 337.8 L1149.1 339.2 L1149.6 340.6 L1150 342 L1150.4 343.4 L1150.9 344.9 L1151.3 346.3 L1151.8 347.7 L1152.2 349.1 L1152.6 350.6 L1153.1 352 L1153.5 353.4 L1153.9 354.9 L1154.4 356.3 L1154.8 357.7 L1155.3 359.1 L1155.7 360.6 L1156.1 362 L1156.6 363.4 L1157 364.9 L1157.5 366.3 L1157.9 367.8 L1158.4 369.2 L1158.8 370.6 L1159.3 372.1 L1159.7 373.5 L1160.2 374.9 L1160.6 376.4 L1161.1 377.8 L1161.5 379.3 L1162 380.7 L1162.5 382.1 L1162.9 383.6 L1163.4 385 L1163.9 386.5 L1164.3 387.9 L1164.8 389.3 L1165.3 390.8 L1165.8 392.2 L1166.3 393.6 L1166.8 395.1 L1167.2 396.5 L1167.7 397.9 L1168.2 399.4 L1168.7 400.8 L1169.2 402.2 L1169.7 403.7 L1170.2 405.1 L1170.8 406.5 L1171.3 408 L1171.8 409.4 L1172.3 410.8 L1172.8 412.2 L1173.4 413.7 L1173.9 415.1 L1174.4 416.5 L1175 417.9 L1175.5 419.3 L1176 420.7 L1176.6 422.2 L1177.2 423.6 L1177.7 425 L1178.3 426.4 L1178.8 427.8 L1179.4 429.2 L1180 430.6 L1180.6 432 L1181.2 433.4 L1181.7 434.8 L1182.3 436.2 L1182.9 437.5 L1183.5 438.9 L1184.1 440.3 L1184.8 441.7 L1185.4 443.1 L1186 444.4 L1186.6 445.8 L1187.3 447.2 L1187.9 448.5 L1188.5 449.9 L1189.2 451.2 L1189.8 452.6 L1190.5 453.9 L1191.2 455.3 L1191.8 456.6 L1192.5 458 L1193.2 459.3 L1193.9 460.6 L1194.6 461.9 L1195.3 463.3 L1196 464.6 L1196.7 465.9 L1197.4 467.2 L1198.1 468.5 L1198.9 469.8 L1199.6 471.1 L1200.4 472.4 L1201.1 473.7 L1201.9 475 L1202.6 476.3 L1203.4 477.5 L1204.2 478.8 L1205 480.1 L1205.8 481.3 L1206.6 482.6 L1207.4 483.8 L1208.2 485.1 L1209 486.3 L1209.8 487.5 L1210.6 488.8 L1211.5 490 L1212.3 491.2 L1213.2 492.4 L1214.1 493.6 L1214.9 494.8 L1215.8 496 L1216.7 497.2 L1217.6 498.4 L1218.5 499.6 L1219.4 500.7 L1220.3 501.9 L1221.2 503.1 L1222.2 504.2 L1223.1 505.4 L1224.1 506.5 L1225 507.6 L1226 508.8 L1227 509.9 L1227.9 511 L1228.9 512.1 L1229.9 513.2 L1230.9 514.3 L1232 515.4 L1233 516.5 L1234 517.6 L1235 518.6 L1236.1 519.7 L1237.1 520.8 L1238.2 521.8 L1239.3 522.9 L1240.3 523.9 L1241.4 525 L1242.5 526 L1243.6 527 L1244.7 528.1 L1245.8 529.1 L1246.9 530.1 L1248 531.1 L1249.2 532.1 L1250.3 533.1 L1251.5 534.1 L1252.6 535.1 L1253.8 536.1 L1254.9 537.1 L1256.1 538.1 L1257.3 539 L1258.5 540 L1259.6 541 L1260.8 541.9 L1262 542.9 L1263.3 543.8 L1264.5 544.7 L1265.7 545.6 L1266.9 546.5 L1268.2 547.4 L1269.4 548.3 L1270.7 549.2 L1271.9 550 L1273.2 550.9 L1274.5 551.7 L1275.8 552.5 L1277 553.2 L1278.3 554 L1279.6 554.7 L1281 555.5 L1282.3 556.2 L1283.6 556.8 L1285 557.5 L1286.3 558.1 L1287.7 558.7 L1289 559.3 L1290.4 559.8 L1291.8 560.3 L1293.2 560.8 L1294.6 561.3 L1296 561.7 L1297.4 562.1 L1298.8 562.4 L1300.2 562.8 L1301.7 563.1 L1303.1 563.3 L1304.6 563.6 L1306.1 563.7 L1307.5 563.9 L1309 564 L1310.5 564.1 L1312 564.1 L1313.5 564.1 L1315 564 L1316.5 564 L1318 563.8 L1319.5 563.7 L1321 563.4 L1322.5 563.2 L1323.9 562.9 L1325.4 562.5 L1326.8 562.1 L1328.2 561.7 L1329.6 561.2 L1331 560.7 L1332.3 560.1 L1333.6 559.5 L1334.9 558.8 L1336.2 558.1 L1337.5 557.3 L1338.7 556.5 L1339.9 555.7 L1341.1 554.9 L1342.3 554 L1343.5 553 L1344.6 552.1 L1345.7 551.1 L1346.9 550.1 L1348 549.1 L1349 548 L1350.1 546.9 L1351.2 545.8 L1352.2 544.7 L1353.2 543.6 L1354.3 542.5 L1355.3 541.3 L1356.3 540.2 L1357.3 539 L1358.3 537.9 L1359.3 536.7 L1360.2 535.5 L1361.2 534.3 L1362.2 533.2 L1363.1 532 L1364.1 530.8 L1365 529.6 L1366 528.4 L1366.9 527.2 L1367.8 526 L1368.8 524.8 L1369.7 523.6 L1370.6 522.4 L1371.5 521.2 L1372.4 520 L1373.3 518.8 L1374.2 517.6 L1375.1 516.4 L1375.9 515.1 L1376.8 513.9 L1377.7 512.7 L1378.5 511.5 L1379.4 510.2 L1380.3 509 L1381.1 507.8 L1381.9 506.5 L1382.8 505.3 L1383.6 504 L1384.4 502.8 L1385.3 501.6 L1386.1 500.3 L1386.9 499 L1387.7 497.8 L1388.5 496.5 L1389.3 495.3 L1390.1 494 L1390.9 492.7 L1391.7 491.5 L1392.5 490.2 L1393.3 488.9 L1394.1 487.7 L1394.8 486.4 L1395.6 485.1 L1396.4 483.8 L1397.1 482.6 L1397.9 481.3 L1398.7 480 L1399.4 478.7 L1400.2 477.4 L1400.9 476.1 L1401.7 474.8 L1402.4 473.5 L1403.1 472.2 L1403.9 470.9 L1404.6 469.6 L1405.3 468.3 L1406.1 467 L1406.8 465.7 L1407.5 464.4 L1408.2 463.1 L1408.9 461.8 L1409.6 460.4 L1410.3 459.1 L1411.1 457.8 L1411.8 456.5 L1412.5 455.2 L1413.2 453.8 L1413.9 452.5 L1414.5 451.2 L1415.2 449.9 L1415.9 448.5 L1416.6 447.2 L1417.3 445.9 L1418 444.5 L1418.7 443.2 L1419.3 441.9 L1420 440.5 L1420.7 439.2 L1421.4 437.8 L1422 436.5 L1422.7 435.2 L1423.4 433.8 L1424 432.5 L1424.7 431.1 L1425.4 429.8 L1426 428.4 L1426.7 427.1 L1427.3 425.7 L1428 424.4 L1428.6 423 L1429.3 421.7 L1429.9 420.3 L1430.6 419 L1431.2 417.6 L1431.9 416.2 L1432.5 414.9 L1433.2 413.5 L1433.8 412.2 L1434.4 410.8 L1435.1 409.5 L1435.7 408.1 L1436.4 406.7 L1437 405.4 L1437.6 404 L1438.3 402.6 L1438.9 401.3 L1439.5 399.9 L1440.2 398.6 L1440.8 397.2 L1441.4 395.8 L1442 394.5 L1442.7 393.1 L1443.3 391.7 L1443.9 390.4 L1444.6 389 L1445.2 387.6 L1445.8 386.3 L1446.4 384.9 L1447.1 383.5 L1447.7 382.2 L1448.3 380.8 L1448.9 379.4 L1449.5 378.1 L1450.2 376.7 L1450.8 375.3 L1451.4 374 L1452 372.6 L1452.7 371.2 L1453.3 369.9 L1453.9 368.5 L1454.5 367.1 L1455.2 365.8 L1455.8 364.4 L1456.4 363 L1457 361.7 L1457.6 360.3 L1458.3 358.9 L1458.9 357.6 L1459.5 356.2 L1460.1 354.8 L1460.8 353.5 L1461.4 352.1 L1462 350.8 L1462.7 349.4 L1463.3 348 L1463.9 346.7 L1464.5 345.3 L1465.2 344 L1465.8 342.6 L1466.4 341.3 L1467.1 339.9 L1467.7 338.5 L1468.3 337.2 L1469 335.8 L1469.6 334.5 L1470.2 333.1 L1470.9 331.8 L1471.5 330.4 L1472.2 329.1 L1472.8 327.8 L1473.5 326.4 L1474.1 325.1 L1474.7 323.7 L1475.4 322.4 L1476 321 L1476.7 319.7" stroke="#52c6c2" stroke-width="3.6" fill="none" stroke-linejoin="round" stroke-linecap="butt"/>
<path d="M912.8 486 L913.5 484.7 L914.2 483.3 L914.9 482 L915.5 480.6 L916.2 479.3 L916.9 477.9 L917.5 476.6 L918.2 475.2 L918.9 473.9 L919.5 472.5 L920.2 471.2 L920.8 469.8 L921.5 468.5 L922.1 467.1 L922.8 465.7 L923.4 464.4 L924.1 463 L924.7 461.7 L925.3 460.3 L926 459 L926.6 457.6 L927.2 456.2 L927.9 454.9 L928.5 453.5 L929.1 452.1 L929.7 450.8 L930.3 449.4 L930.9 448 L931.5 446.7 L932.1 445.3 L932.7 443.9 L933.3 442.6 L933.9 441.2 L934.5 439.8 L935.1 438.4 L935.7 437.1 L936.3 435.7 L936.9 434.3 L937.5 432.9 L938.1 431.6 L938.6 430.2 L939.2 428.8 L939.8 427.4 L940.4 426 L940.9 424.7 L941.5 423.3 L942.1 421.9 L942.6 420.5 L943.2 419.1 L943.8 417.8 L944.3 416.4 L944.9 415 L945.4 413.6 L946 412.2 L946.5 410.8 L947.1 409.4 L947.7 408.1 L948.2 406.7 L948.7 405.3 L949.3 403.9 L949.8 402.5 L950.4 401.1 L950.9 399.7 L951.5 398.3 L952 396.9 L952.5 395.5 L953.1 394.1 L953.6 392.7 L954.1 391.3 L954.6 390 L955.2 388.6 L955.7 387.2 L956.2 385.8 L956.8 384.4 L957.3 383 L957.8 381.6 L958.3 380.2 L958.8 378.8 L959.4 377.4 L959.9 376 L960.4 374.6 L960.9 373.2 L961.4 371.8 L961.9 370.4 L962.5 369 L963 367.6 L963.5 366.2 L964 364.8 L964.5 363.4 L965 361.9 L965.5 360.5 L966 359.1 L966.5 357.7 L967 356.3 L967.5 354.9 L968 353.5 L968.5 352.1 L969.1 350.7 L969.6 349.3 L970.1 347.9 L970.6 346.5 L971.1 345.1 L971.6 343.7 L972.1 342.3 L972.6 340.8 L973.1 339.4 L973.6 338 L974.1 336.6 L974.6 335.2 L975.1 333.8 L975.6 332.4 L976.1 331 L976.6 329.6 L977.1 328.1 L977.6 326.7 L978.1 325.3 L978.6 323.9 L979.1 322.5 L979.6 321.1 L980.1 319.7 L980.6 318.3 L981.1 316.8 L981.6 315.4 L982.1 314 L982.5 312.6 L983 311.2 L983.5 309.8 L984.1 308.4 L984.6 307 L985.1 305.5 L985.6 304.1 L986.1 302.7 L986.6 301.3 L987.1 299.9 L987.6 298.5 L988.1 297.1 L988.6 295.6 L989.1 294.2 L989.6 292.8 L990.1 291.4 L990.6 290 L991.1 288.6 L991.6 287.2 L992.1 285.7 L992.6 284.3 L993.1 282.9 L993.7 281.5 L994.2 280.1 L994.7 278.7 L995.2 277.3 L995.7 275.8 L996.2 274.4 L996.7 273 L997.3 271.6 L997.8 270.2 L998.3 268.8 L998.8 267.3 L999.3 265.9 L999.9 264.5 L1000.4 263.1 L1000.9 261.7 L1001.4 260.3 L1002 258.9 L1002.5 257.5 L1003 256 L1003.6 254.6 L1004.1 253.2 L1004.6 251.8 L1005.2 250.4 L1005.7 249 L1006.2 247.6 L1006.8 246.2 L1007.3 244.7 L1007.9 243.3 L1008.4 241.9 L1009 240.5 L1009.5 239.1 L1010.1 237.7 L1010.6 236.3 L1011.2 234.9 L1011.7 233.4 L1012.3 232 L1012.8 230.6 L1013.4 229.2 L1014 227.8 L1014.5 226.4 L1015.1 225 L1015.7 223.6 L1016.2 222.2 L1016.8 220.8 L1017.4 219.4 L1018 218 L1018.6 216.5 L1019.1 215.1 L1019.7 213.7 L1020.3 212.3 L1020.9 210.9 L1021.5 209.5 L1022.1 208.1 L1022.7 206.7 L1023.3 205.3 L1023.9 203.9 L1024.5 202.6 L1025.2 201.2 L1025.8 199.8 L1026.5 198.5 L1027.1 197.1 L1027.8 195.8 L1028.5 194.4 L1029.2 193.1 L1029.9 191.8 L1030.7 190.5 L1031.4 189.2 L1032.2 187.9 L1033 186.6 L1033.8 185.4 L1034.6 184.1 L1035.4 182.9 L1036.3 181.7 L1037.1 180.5 L1038 179.3 L1039 178.1 L1039.9 177 L1040.9 175.9 L1041.9 174.8 L1042.9 173.7 L1043.9 172.6 L1045 171.6 L1046.1 170.6 L1047.2 169.6 L1048.4 168.6 L1049.6 167.6 L1050.8 166.7 L1052 165.8 L1053.3 165 L1054.5 164.2 L1055.8 163.4 L1057.1 162.7 L1058.4 162 L1059.8 161.4 L1061.1 160.8 L1062.5 160.3 L1063.8 159.8 L1065.2 159.4 L1066.6 159.1 L1068 158.8 L1069.4 158.6 L1070.7 158.5 L1072.1 158.4 L1073.5 158.5 L1074.9 158.6 L1076.3 158.7 L1077.6 159 L1079 159.3 L1080.4 159.7 L1081.7 160.2 L1083 160.7 L1084.4 161.2 L1085.7 161.9 L1086.9 162.6 L1088.2 163.3 L1089.5 164.1 L1090.7 165 L1091.9 165.8 L1093.1 166.8 L1094.2 167.8 L1095.4 168.8 L1096.5 169.8 L1097.6 170.9 L1098.6 172 L1099.7 173.1 L1100.7 174.3 L1101.6 175.5 L1102.6 176.7 L1103.6 177.9 L1104.5 179.1 L1105.4 180.4 L1106.3 181.6 L1107.2 182.9 L1108.1 184.2 L1108.9 185.4 L1109.8 186.7 L1110.7 188 L1111.5 189.2 L1112.3 190.5 L1113.1 191.8 L1113.9 193.1 L1114.7 194.4 L1115.5 195.7 L1116.3 197 L1117.1 198.3 L1117.9 199.6 L1118.6 200.9 L1119.4 202.2 L1120.1 203.5 L1120.8 204.8 L1121.6 206.2 L1122.3 207.5 L1123 208.8 L1123.7 210.1 L1124.4 211.5 L1125.1 212.8 L1125.8 214.1 L1126.5 215.5 L1127.1 216.8 L1127.8 218.1 L1128.5 219.5 L1129.1 220.8 L1129.8 222.2 L1130.4 223.5 L1131.1 224.9 L1131.7 226.2 L1132.4 227.6 L1133 228.9 L1133.6 230.3 L1134.2 231.7 L1134.9 233 L1135.5 234.4 L1136.1 235.7 L1136.7 237.1 L1137.3 238.5 L1137.9 239.8 L1138.5 241.2 L1139.1 242.6 L1139.7 243.9 L1140.3 245.3 L1140.9 246.7 L1141.5 248 L1142.1 249.4 L1142.7 250.8 L1143.3 252.2 L1143.9 253.5 L1144.5 254.9 L1145.1 256.3 L1145.7 257.6 L1146.3 259 L1146.8 260.4 L1147.4 261.7 L1148 263.1 L1148.6 264.5 L1149.2 265.9 L1149.8 267.2 L1150.4 268.6 L1151 270 L1151.6 271.3 L1152.2 272.7 L1152.9 274.1 L1153.5 275.4 L1154.1 276.8 L1154.7 278.2 L1155.3 279.5 L1155.9 280.9 L1156.6 282.2 L1157.2 283.6 L1157.8 285 L1158.4 286.3 L1159.1 287.7 L1159.7 289 L1160.3 290.4 L1161 291.7 L1161.6 293.1 L1162.3 294.4 L1162.9 295.8 L1163.6 297.1 L1164.2 298.5 L1164.9 299.8 L1165.5 301.2 L1166.2 302.5 L1166.8 303.9 L1167.5 305.2 L1168.2 306.6 L1168.8 307.9 L1169.5 309.3 L1170.2 310.6 L1170.9 311.9 L1171.5 313.3 L1172.2 314.6 L1172.9 315.9 L1173.6 317.3 L1174.3 318.6 L1175 319.9 L1175.6 321.3 L1176.3 322.6 L1177 323.9 L1177.7 325.3 L1178.4 326.6 L1179.1 327.9 L1179.8 329.2 L1180.6 330.5 L1181.3 331.9 L1182 333.2 L1182.7 334.5 L1183.4 335.8 L1184.1 337.1 L1184.9 338.5 L1185.6 339.8 L1186.3 341.1 L1187 342.4 L1187.8 343.7 L1188.5 345 L1189.3 346.3 L1190 347.6 L1190.7 348.9 L1191.5 350.2 L1192.2 351.5 L1193 352.8 L1193.7 354.1 L1194.5 355.4 L1195.3 356.7 L1196 358 L1196.8 359.3 L1197.5 360.6 L1198.3 361.9 L1199.1 363.1 L1199.9 364.4 L1200.6 365.7 L1201.4 367 L1202.2 368.3 L1203 369.5 L1203.8 370.8 L1204.6 372.1 L1205.4 373.4 L1206.1 374.6 L1206.9 375.9 L1207.7 377.2 L1208.5 378.4 L1209.4 379.7 L1210.2 381 L1211 382.2 L1211.8 383.5 L1212.6 384.7 L1213.4 386 L1214.2 387.3 L1215.1 388.5 L1215.9 389.8 L1216.7 391 L1217.5 392.3 L1218.4 393.5 L1219.2 394.7 L1220.1 396 L1220.9 397.2 L1221.7 398.5 L1222.6 399.7 L1223.4 400.9 L1224.3 402.2 L1225.1 403.4 L1226 404.6 L1226.9 405.8 L1227.7 407.1 L1228.6 408.3 L1229.5 409.5 L1230.3 410.7 L1231.2 411.9 L1232.1 413.2 L1233 414.4 L1233.8 415.6 L1234.7 416.8 L1235.6 418 L1236.5 419.2 L1237.4 420.4 L1238.3 421.6 L1239.2 422.8 L1240.1 424 L1241 425.2 L1241.9 426.4 L1242.8 427.6 L1243.7 428.7 L1244.6 429.9 L1245.6 431.1 L1246.5 432.3 L1247.4 433.5 L1248.3 434.6 L1249.3 435.8 L1250.2 437 L1251.1 438.2 L1252.1 439.3 L1253 440.5 L1253.9 441.6 L1254.9 442.8 L1255.8 444 L1256.8 445.1 L1257.7 446.3 L1258.7 447.4 L1259.7 448.6 L1260.6 449.7 L1261.6 450.9 L1262.5 452 L1263.5 453.1 L1264.5 454.3 L1265.5 455.4 L1266.4 456.5 L1267.4 457.7 L1268.4 458.8 L1269.4 459.9 L1270.4 461 L1271.4 462.2 L1272.4 463.3 L1273.4 464.4 L1274.3 465.5 L1275.4 466.6 L1276.4 467.7 L1277.4 468.8 L1278.4 470 L1279.4 471.1 L1280.4 472.2 L1281.4 473.3 L1282.4 474.4 L1283.4 475.5 L1284.5 476.6 L1285.5 477.6 L1286.5 478.7 L1287.5 479.8 L1288.6 480.9 L1289.6 482 L1290.6 483.1 L1291.7 484.2 L1292.7 485.2 L1293.8 486.3 L1294.8 487.4 L1295.9 488.5 L1296.9 489.5 L1298 490.6 L1299 491.7 L1300.1 492.7 L1301.1 493.8 L1302.2 494.9 L1303.3 495.9 L1304.3 497 L1305.4 498 L1306.5 499.1 L1307.5 500.1 L1308.6 501.2 L1309.7 502.2 L1310.7 503.3 L1311.8 504.3 L1312.9 505.4 L1314 506.4 L1315.1 507.4 L1316.2 508.5 L1317.3 509.5 L1318.3 510.6 L1319.4 511.6 L1320.5 512.6 L1321.6 513.6 L1322.7 514.7 L1323.8 515.7 L1324.9 516.7 L1326 517.7 L1327.1 518.8 L1328.2 519.8 L1329.4 520.8 L1330.5 521.8 L1331.6 522.8 L1332.7 523.8 L1333.8 524.9 L1334.9 525.9 L1336.1 526.9 L1337.2 527.9 L1338.3 528.9 L1339.4 529.9 L1340.6 530.9 L1341.7 531.9 L1342.8 532.9 L1344 533.8 L1345.1 534.8 L1346.3 535.8 L1347.4 536.7 L1348.6 537.7 L1349.7 538.6 L1350.9 539.6 L1352.1 540.5 L1353.2 541.4 L1354.4 542.4 L1355.6 543.3 L1356.8 544.2 L1358 545 L1359.2 545.9 L1360.5 546.8 L1361.7 547.6 L1362.9 548.4 L1364.2 549.3 L1365.4 550.1 L1366.7 550.9 L1367.9 551.6 L1369.2 552.4 L1370.5 553.1 L1371.8 553.9 L1373.1 554.6 L1374.4 555.3 L1375.7 556 L1377.1 556.6 L1378.4 557.2 L1379.8 557.9 L1381.1 558.5 L1382.5 559 L1383.9 559.6 L1385.3 560.1 L1386.7 560.6 L1388.2 561.1 L1389.6 561.6 L1391 562 L1392.5 562.5 L1393.9 562.9 L1395.4 563.2 L1396.9 563.5 L1398.4 563.9 L1399.8 564.1 L1401.3 564.4 L1402.8 564.6 L1404.3 564.8 L1405.8 564.9 L1407.3 565 L1408.8 565.1 L1410.2 565.2 L1411.7 565.2 L1413.2 565.2 L1414.7 565.1 L1416.2 565 L1417.6 564.9 L1419.1 564.7 L1420.6 564.5 L1422 564.2 L1423.5 563.9 L1424.9 563.6 L1426.3 563.2 L1427.8 562.8 L1429.2 562.4 L1430.6 561.9 L1432 561.4 L1433.4 560.9 L1434.8 560.3 L1436.2 559.7 L1437.6 559.1 L1438.9 558.5 L1440.3 557.8 L1441.7 557.1 L1443 556.4 L1444.4 555.7 L1445.7 554.9 L1447 554.2 L1448.4 553.4 L1449.7 552.6 L1451 551.8 L1452.3 550.9 L1453.6 550.1 L1454.9 549.3 L1456.1 548.4 L1457.4 547.5 L1458.7 546.7 L1459.9 545.8 L1461.2 544.9 L1462.4 544 L1463.7 543.1 L1464.9 542.2 L1466.1 541.3 L1467.3 540.4 L1468.5 539.6 L1469.7 538.7 L1470.9 537.8 L1472.1 536.9 L1473.2 536 L1474.4 535.2 L1475.6 534.3 L1476.7 533.5" stroke="#607449" stroke-width="3.6" fill="none" stroke-linejoin="round" stroke-linecap="butt"/>
<path d="M1332.7 524.8 L1333.8 525.9 L1334.9 526.9 L1336.1 527.9 L1337.2 528.9 L1338.3 529.9 L1339.4 530.9 L1340.6 531.9 L1341.7 532.9 L1342.8 533.9 L1344 534.8 L1345.1 535.8 L1346.3 536.8 L1347.4 537.7 L1348.6 538.7 L1349.7 539.6 L1350.9 540.6 L1352.1 541.5 L1353.2 542.4 L1354.4 543.4 L1355.6 544.3 L1356.8 545.2 L1358 546 L1359.2 546.9 L1360.5 547.8 L1361.7 548.6 L1362.9 549.4 L1364.2 550.3 L1365.4 551.1 L1366.7 551.9 L1367.9 552.6 L1369.2 553.4 L1370.5 554.1 L1371.8 554.9 L1373.1 555.6 L1374.4 556.3 L1375.7 557 L1377.1 557.6 L1378.4 558.2 L1379.8 558.9 L1381.1 559.5 L1382.5 560 L1383.9 560.6 L1385.3 561.1 L1386.7 561.6 L1388.2 562.1 L1389.6 562.6 L1391 563 L1392.5 563.5 L1393.9 563.9 L1395.4 564.2 L1396.9 564.5 L1398.4 564.9 L1399.8 565.1 L1401.3 565.4 L1402.8 565.6 L1404.3 565.8 L1405.8 565.9 L1407.3 566 L1408.8 566.1 L1410.2 566.2 L1411.7 566.2 L1413.2 566.2 L1414.7 566.1 L1416.2 566 L1417.6 565.9 L1419.1 565.7 L1420.6 565.5 L1422 565.2 L1423.5 564.9 L1424.9 564.6 L1426.3 564.2 L1427.8 563.8 L1429.2 563.4 L1430.6 562.9 L1432 562.4 L1433.4 561.9 L1434.8 561.3 L1436.2 560.7 L1437.6 560.1 L1438.9 559.5" stroke="#607449" stroke-width="5.6" fill="none" stroke-linejoin="round" stroke-linecap="round"/>
<path d="M912.8 485 L914.5 484.7 L916.1 484.3 L917.6 483.8 L919 483.2 L920.3 482.6 L921.6 481.9 L922.8 481 L923.9 480.2 L924.9 479.2 L925.9 478.2 L926.9 477.2 L927.8 476.1 L928.6 475 L929.4 473.8 L930.2 472.6 L931 471.3 L931.7 470.1 L932.4 468.8 L933.1 467.5 L933.8 466.2 L934.5 464.8 L935.3 463.5 L936 462.2 L936.7 460.9 L937.5 459.6 L938.2 458.3 L939 457 L939.8 455.8 L940.6 454.5 L941.4 453.2 L942.2 451.9 L943 450.7 L943.8 449.4 L944.6 448.2 L945.4 446.9 L946.2 445.6 L947 444.4 L947.8 443.1 L948.6 441.8 L949.4 440.6 L950.2 439.3 L951 438 L951.7 436.7 L952.5 435.4 L953.3 434.1 L954 432.8 L954.8 431.5 L955.5 430.2 L956.3 428.9 L957 427.6 L957.8 426.4 L958.5 425.1 L959.3 423.8 L960 422.5 L960.8 421.2 L961.6 419.9 L962.3 418.6 L963.1 417.3 L963.8 416 L964.6 414.7 L965.3 413.4 L966.1 412.1 L966.8 410.8 L967.6 409.5 L968.3 408.2 L969.1 406.9 L969.8 405.6 L970.6 404.4 L971.3 403.1 L972.1 401.8 L972.9 400.5 L973.6 399.2 L974.4 397.9 L975.1 396.6 L975.9 395.3 L976.6 394 L977.4 392.8 L978.2 391.5 L978.9 390.2 L979.7 388.9 L980.4 387.6 L981.2 386.3 L982 385 L982.7 383.8 L983.5 382.5 L984.2 381.2 L985 379.9 L985.8 378.6 L986.5 377.3 L987.3 376.1 L988.1 374.8 L988.8 373.5 L989.6 372.2 L990.4 370.9 L991.1 369.7 L991.9 368.4 L992.7 367.1 L993.5 365.8 L994.2 364.5 L995 363.3 L995.8 362 L996.6 360.7 L997.3 359.4 L998.1 358.2 L998.9 356.9 L999.7 355.6 L1000.5 354.3 L1001.3 353.1 L1002 351.8 L1002.8 350.5 L1003.6 349.3 L1004.4 348 L1005.2 346.7 L1006 345.4 L1006.8 344.2 L1007.6 342.9 L1008.4 341.6 L1009.2 340.4 L1010 339.1 L1010.8 337.8 L1011.6 336.6 L1012.4 335.3 L1013.2 334 L1014 332.8 L1014.8 331.5 L1015.6 330.2 L1016.4 329 L1017.2 327.7 L1018 326.5 L1018.9 325.2 L1019.7 323.9 L1020.5 322.7 L1021.3 321.4 L1022.1 320.2 L1023 318.9 L1023.8 317.7 L1024.6 316.4 L1025.4 315.1 L1026.3 313.9 L1027.1 312.6 L1027.9 311.4 L1028.8 310.1 L1029.6 308.9 L1030.5 307.6 L1031.3 306.4 L1032.1 305.1 L1033 303.9 L1033.8 302.6 L1034.7 301.4 L1035.6 300.1 L1036.4 298.9 L1037.3 297.7 L1038.2 296.4 L1039 295.2 L1039.9 294 L1040.8 292.7 L1041.7 291.5 L1042.6 290.3 L1043.5 289.1 L1044.4 287.9 L1045.3 286.7 L1046.2 285.6 L1047.2 284.4 L1048.1 283.2 L1049.1 282.1 L1050 280.9 L1051 279.8 L1052 278.7 L1053 277.5 L1054 276.4 L1055 275.3 L1056 274.3 L1057.1 273.2 L1058.1 272.1 L1059.2 271.1 L1060.2 270.1 L1061.3 269 L1062.4 268 L1063.5 267.1 L1064.7 266.1 L1065.8 265.1 L1067 264.2 L1068.2 263.3 L1069.3 262.4 L1070.6 261.5 L1071.8 260.6 L1073 259.8 L1074.3 258.9 L1075.6 258.1 L1076.8 257.3 L1078.2 256.6 L1079.5 255.8 L1080.8 255.1 L1082.2 254.4 L1083.5 253.7 L1084.9 253.1 L1086.3 252.5 L1087.7 251.9 L1089.1 251.3 L1090.5 250.8 L1091.9 250.3 L1093.3 249.8 L1094.7 249.3 L1096.2 248.9 L1097.6 248.5 L1099.1 248.2 L1100.5 247.9 L1102 247.6 L1103.4 247.4 L1104.9 247.2 L1106.3 247 L1107.8 246.9 L1109.2 246.8 L1110.7 246.7 L1112.1 246.7 L1113.6 246.8 L1115 246.9 L1116.5 247 L1117.9 247.2 L1119.3 247.4 L1120.7 247.6 L1122.2 247.9 L1123.6 248.3 L1125 248.7 L1126.4 249.1 L1127.8 249.6 L1129.1 250.1 L1130.5 250.6 L1131.9 251.2 L1133.2 251.8 L1134.6 252.4 L1135.9 253.1 L1137.2 253.8 L1138.5 254.5 L1139.8 255.3 L1141.1 256.1 L1142.4 256.9 L1143.7 257.7 L1145 258.6 L1146.2 259.4 L1147.5 260.3 L1148.7 261.3 L1149.9 262.2 L1151.1 263.2 L1152.3 264.1 L1153.5 265.1 L1154.7 266.1 L1155.9 267.1 L1157 268.2 L1158.2 269.2 L1159.3 270.3 L1160.4 271.3 L1161.5 272.4 L1162.6 273.5 L1163.6 274.5 L1164.7 275.6 L1165.7 276.7 L1166.8 277.8 L1167.8 278.9 L1168.8 280 L1169.8 281.2 L1170.8 282.3 L1171.8 283.4 L1172.8 284.6 L1173.7 285.7 L1174.7 286.9 L1175.6 288 L1176.6 289.2 L1177.5 290.3 L1178.5 291.5 L1179.4 292.7 L1180.3 293.9 L1181.2 295 L1182.2 296.2 L1183.1 297.4 L1184 298.6 L1184.9 299.8 L1185.8 301 L1186.7 302.2 L1187.5 303.4 L1188.4 304.6 L1189.3 305.8 L1190.2 307 L1191 308.2 L1191.9 309.4 L1192.8 310.6 L1193.6 311.8 L1194.5 313.1 L1195.3 314.3 L1196.2 315.5 L1197 316.8 L1197.8 318 L1198.7 319.2 L1199.5 320.5 L1200.3 321.7 L1201.1 323 L1201.9 324.2 L1202.8 325.5 L1203.6 326.7 L1204.4 328 L1205.2 329.2 L1206 330.5 L1206.8 331.7 L1207.5 333 L1208.3 334.3 L1209.1 335.5 L1209.9 336.8 L1210.7 338.1 L1211.4 339.4 L1212.2 340.7 L1213 341.9 L1213.7 343.2 L1214.5 344.5 L1215.2 345.8 L1216 347.1 L1216.7 348.4 L1217.5 349.7 L1218.2 351 L1218.9 352.3 L1219.7 353.6 L1220.4 354.9 L1221.1 356.2 L1221.9 357.5 L1222.6 358.8 L1223.3 360.1 L1224 361.4 L1224.7 362.7 L1225.4 364 L1226.1 365.4 L1226.9 366.7 L1227.6 368 L1228.3 369.3 L1228.9 370.7 L1229.6 372 L1230.3 373.3 L1231 374.6 L1231.7 376 L1232.4 377.3 L1233.1 378.6 L1233.8 380 L1234.4 381.3 L1235.1 382.6 L1235.8 384 L1236.5 385.3 L1237.1 386.7 L1237.8 388 L1238.5 389.4 L1239.1 390.7 L1239.8 392.1 L1240.4 393.4 L1241.1 394.7 L1241.7 396.1 L1242.4 397.5 L1243.1 398.8 L1243.7 400.2 L1244.3 401.5 L1245 402.9 L1245.6 404.2 L1246.3 405.6 L1246.9 406.9 L1247.6 408.3 L1248.2 409.7 L1248.8 411 L1249.5 412.4 L1250.1 413.7 L1250.7 415.1 L1251.4 416.5 L1252 417.8 L1252.6 419.2 L1253.2 420.6 L1253.9 421.9 L1254.5 423.3 L1255.1 424.7 L1255.7 426 L1256.4 427.4 L1257 428.8 L1257.6 430.1 L1258.2 431.5 L1258.8 432.9 L1259.5 434.3 L1260.1 435.6 L1260.7 437 L1261.3 438.4 L1261.9 439.7 L1262.5 441.1 L1263.1 442.5 L1263.7 443.9 L1264.4 445.2 L1265 446.6 L1265.6 448 L1266.2 449.3 L1266.8 450.7 L1267.4 452.1 L1268 453.5 L1268.6 454.8 L1269.2 456.2 L1269.8 457.6 L1270.4 459 L1271.1 460.3 L1271.7 461.7 L1272.3 463.1 L1272.9 464.4 L1273.5 465.8 L1274.1 467.2 L1274.7 468.5 L1275.3 469.9 L1275.9 471.3 L1276.5 472.7 L1277.1 474 L1277.7 475.4 L1278.3 476.8 L1279 478.1 L1279.6 479.5 L1280.2 480.9 L1280.8 482.2 L1281.4 483.6 L1282 485 L1282.6 486.3 L1283.2 487.7 L1283.8 489 L1284.5 490.4 L1285.1 491.8 L1285.7 493.1 L1286.3 494.5 L1286.9 495.9 L1287.5 497.2 L1288.1 498.6 L1288.8 499.9 L1289.4 501.3 L1290 502.6 L1290.6 504 L1291.2 505.4 L1291.9 506.7 L1292.5 508.1 L1293.1 509.4 L1293.7 510.8 L1294.4 512.1 L1295 513.5 L1295.6 514.8 L1296.3 516.2 L1296.9 517.6 L1297.5 518.9 L1298.1 520.3 L1298.8 521.6 L1299.4 523 L1300.1 524.3 L1300.7 525.7 L1301.3 527 L1302 528.4 L1302.6 529.7 L1303.3 531.1 L1303.9 532.4 L1304.6 533.7 L1305.2 535.1 L1305.9 536.4 L1306.5 537.8 L1307.2 539.1 L1307.8 540.5 L1308.5 541.8 L1309.1 543.2 L1309.8 544.5 L1310.5 545.8 L1311.1 547.2 L1311.8 548.5 L1312.5 549.9 L1313.1 551.2 L1313.8 552.5 L1314.5 553.9 L1315.2 555.2 L1315.8 556.6 L1316.5 557.9 L1317.2 559.2 L1317.9 560.6 L1318.6 561.9 L1319.3 563.2 L1320 564.6 L1320.6 565.9 L1321.3 567.2 L1322 568.6 L1322.7 569.9 L1323.5 571.2 L1324.2 572.6 L1324.9 573.9 L1325.6 575.2 L1326.3 576.5 L1327.1 577.8 L1327.8 579.2 L1328.5 580.5 L1329.3 581.8 L1330 583.1 L1330.8 584.4 L1331.5 585.7 L1332.3 587 L1333 588.3 L1333.8 589.6 L1334.6 590.8 L1335.4 592.1 L1336.2 593.4 L1337 594.7 L1337.8 595.9 L1338.6 597.2 L1339.4 598.4 L1340.2 599.7 L1341.1 600.9 L1341.9 602.2 L1342.7 603.4 L1343.6 604.6 L1344.5 605.9 L1345.3 607.1 L1346.2 608.3 L1347.1 609.5 L1348 610.7 L1348.9 611.9 L1349.8 613.1 L1350.7 614.2 L1351.7 615.4 L1352.6 616.6 L1353.6 617.7 L1354.5 618.9 L1355.5 620 L1356.5 621.1 L1357.5 622.3 L1358.5 623.4 L1359.5 624.5 L1360.5 625.6 L1361.6 626.7 L1362.6 627.7 L1363.7 628.8 L1364.7 629.9 L1365.8 630.9 L1366.9 632 L1368 633 L1369.1 634 L1370.2 635 L1371.4 636 L1372.5 637 L1373.7 638 L1374.9 639 L1376.1 639.9 L1377.3 640.8 L1378.5 641.8 L1379.7 642.6 L1381 643.5 L1382.2 644.4 L1383.5 645.2 L1384.7 646 L1386 646.8 L1387.3 647.6 L1388.6 648.3 L1390 649 L1391.3 649.7 L1392.6 650.3 L1394 650.9 L1395.3 651.5 L1396.7 652 L1398.1 652.5 L1399.5 653 L1400.9 653.4 L1402.3 653.7 L1403.8 654.1 L1405.2 654.4 L1406.6 654.6 L1408.1 654.8 L1409.6 655 L1411.1 655.1 L1412.5 655.1 L1414 655.2 L1415.5 655.1 L1417 655 L1418.5 654.9 L1420 654.8 L1421.5 654.5 L1423 654.3 L1424.5 654 L1426 653.7 L1427.5 653.3 L1429 652.9 L1430.4 652.4 L1431.9 651.9 L1433.3 651.4 L1434.7 650.8 L1436.1 650.2 L1437.5 649.6 L1438.8 648.9 L1440.2 648.2 L1441.5 647.4 L1442.8 646.7 L1444 645.9 L1445.3 645 L1446.5 644.2 L1447.7 643.3 L1448.9 642.3 L1450 641.4 L1451.1 640.4 L1452.3 639.4 L1453.4 638.4 L1454.5 637.4 L1455.5 636.3 L1456.6 635.2 L1457.6 634.1 L1458.6 633 L1459.6 631.9 L1460.6 630.8 L1461.6 629.6 L1462.6 628.4 L1463.5 627.3 L1464.4 626.1 L1465.4 624.9 L1466.3 623.7 L1467.2 622.5 L1468.1 621.3 L1469 620 L1469.9 618.8 L1470.7 617.6 L1471.6 616.4 L1472.5 615.2 L1473.3 613.9 L1474.2 612.7 L1475 611.5 L1475.9 610.3 L1476.7 609.1" stroke="#f26c45" stroke-width="3.6" fill="none" stroke-linejoin="round" stroke-linecap="butt"/>
<path d="M912.8 491 L914.2 490.6 L915.6 490.1 L917 489.6 L918.5 489.2 L919.9 488.7 L921.3 488.2 L922.7 487.7 L924.1 487.2 L925.5 486.6 L926.9 486.1 L928.3 485.5 L929.7 485 L931.1 484.4 L932.5 483.8 L933.8 483.2 L935.2 482.6 L936.6 482 L938 481.3 L939.3 480.7 L940.7 480 L942 479.3 L943.4 478.7 L944.7 478 L946 477.2 L947.4 476.5 L948.7 475.8 L950 475 L951.3 474.3 L952.5 473.5 L953.8 472.7 L955.1 471.9 L956.3 471.1 L957.6 470.2 L958.8 469.4 L960.1 468.5 L961.3 467.6 L962.5 466.7 L963.7 465.8 L964.8 464.9 L966 464 L967.1 463 L968.3 462 L969.4 461.1 L970.5 460.1 L971.6 459.1 L972.7 458 L973.8 457 L974.8 455.9 L975.9 454.9 L976.9 453.8 L977.9 452.7 L978.9 451.6 L979.9 450.5 L980.9 449.3 L981.9 448.2 L982.8 447 L983.8 445.9 L984.7 444.7 L985.6 443.5 L986.5 442.3 L987.4 441.1 L988.3 439.9 L989.2 438.7 L990.1 437.5 L991 436.3 L991.8 435 L992.7 433.8 L993.5 432.5 L994.3 431.3 L995.1 430 L995.9 428.7 L996.8 427.5 L997.5 426.2 L998.3 424.9 L999.1 423.6 L999.9 422.3 L1000.6 421 L1001.4 419.7 L1002.1 418.4 L1002.9 417.1 L1003.6 415.8 L1004.3 414.5 L1005.1 413.2 L1005.8 411.9 L1006.5 410.6 L1007.2 409.3 L1007.9 408 L1008.6 406.6 L1009.3 405.3 L1010 404 L1010.7 402.7 L1011.3 401.3 L1012 400 L1012.7 398.7 L1013.3 397.3 L1014 396 L1014.7 394.6 L1015.3 393.3 L1016 392 L1016.6 390.6 L1017.3 389.3 L1017.9 387.9 L1018.5 386.6 L1019.2 385.2 L1019.8 383.9 L1020.5 382.5 L1021.1 381.2 L1021.7 379.8 L1022.4 378.5 L1023 377.1 L1023.6 375.7 L1024.3 374.4 L1024.9 373 L1025.5 371.7 L1026.2 370.3 L1026.8 369 L1027.4 367.6 L1028.1 366.3 L1028.7 364.9 L1029.3 363.5 L1030 362.2 L1030.6 360.8 L1031.3 359.5 L1031.9 358.1 L1032.5 356.8 L1033.2 355.4 L1033.8 354.1 L1034.5 352.7 L1035.1 351.3 L1035.7 350 L1036.4 348.6 L1037 347.3 L1037.6 345.9 L1038.3 344.6 L1038.9 343.2 L1039.5 341.8 L1040.2 340.5 L1040.8 339.1 L1041.4 337.7 L1042.1 336.4 L1042.7 335 L1043.3 333.7 L1043.9 332.3 L1044.6 330.9 L1045.2 329.6 L1045.8 328.2 L1046.4 326.8 L1047 325.5 L1047.6 324.1 L1048.2 322.7 L1048.8 321.3 L1049.4 320 L1050 318.6 L1050.6 317.2 L1051.2 315.9 L1051.8 314.5 L1052.4 313.1 L1053 311.7 L1053.6 310.3 L1054.2 309 L1054.7 307.6 L1055.3 306.2 L1055.9 304.8 L1056.5 303.4 L1057 302 L1057.6 300.7 L1058.2 299.3 L1058.7 297.9 L1059.3 296.5 L1059.8 295.1 L1060.4 293.7 L1061 292.3 L1061.5 290.9 L1062.1 289.5 L1062.6 288.2 L1063.2 286.8 L1063.7 285.4 L1064.3 284 L1064.8 282.6 L1065.3 281.2 L1065.9 279.8 L1066.4 278.4 L1067 277 L1067.5 275.6 L1068 274.2 L1068.6 272.8 L1069.1 271.4 L1069.7 270 L1070.2 268.6 L1070.7 267.2 L1071.3 265.8 L1071.8 264.4 L1072.3 263 L1072.9 261.6 L1073.4 260.2 L1073.9 258.8 L1074.4 257.4 L1075 256 L1075.5 254.6 L1076 253.2 L1076.6 251.8 L1077.1 250.4 L1077.6 249 L1078.1 247.6 L1078.7 246.2 L1079.2 244.8 L1079.7 243.4 L1080.3 242 L1080.8 240.6 L1081.3 239.2 L1081.8 237.8 L1082.4 236.4 L1082.9 235 L1083.4 233.6 L1084 232.1 L1084.5 230.7 L1085 229.3 L1085.6 227.9 L1086.1 226.5 L1086.6 225.1 L1087.2 223.7 L1087.7 222.3 L1088.3 220.9 L1088.8 219.5 L1089.3 218.1 L1089.9 216.7 L1090.4 215.3 L1091 213.9 L1091.5 212.5 L1092.1 211.1 L1092.6 209.8 L1093.2 208.4 L1093.8 207 L1094.3 205.6 L1094.9 204.2 L1095.5 202.8 L1096 201.4 L1096.6 200 L1097.2 198.6 L1097.8 197.3 L1098.3 195.9 L1098.9 194.5 L1099.5 193.1 L1100.1 191.7 L1100.7 190.4 L1101.3 189 L1101.9 187.6 L1102.5 186.2 L1103.1 184.9 L1103.8 183.5 L1104.4 182.1 L1105 180.8 L1105.6 179.4 L1106.3 178.1 L1106.9 176.7 L1107.6 175.4 L1108.2 174 L1108.9 172.7 L1109.5 171.3 L1110.2 170 L1110.9 168.6 L1111.6 167.3 L1112.2 166 L1112.9 164.6 L1113.6 163.3 L1114.3 162 L1115 160.7 L1115.8 159.3 L1116.5 158 L1117.2 156.7 L1117.9 155.4 L1118.7 154.1 L1119.4 152.8 L1120.2 151.5 L1120.9 150.2 L1121.7 148.9 L1122.5 147.6 L1123.3 146.3 L1124.1 145.1 L1124.9 143.8 L1125.7 142.5 L1126.5 141.2 L1127.3 140 L1128.1 138.7 L1129 137.5 L1129.8 136.2 L1130.7 135 L1131.5 133.7 L1132.4 132.5 L1133.3 131.2 L1134.2 130 L1135.1 128.8 L1136 127.6 L1136.9 126.3 L1137.8 125.1 L1138.8 123.9 L1139.7 122.7 L1140.7 121.5 L1141.6 120.3 L1142.6 119.1 L1143.6 117.9 L1144.6 116.8 L1145.6 115.6 L1146.6 114.4 L1147.6 113.3 L1148.7 112.3 L1149.8 111.3 L1150.8 110.4 L1151.9 109.6 L1153 108.9 L1154.2 108.4 L1155.4 108 L1156.6 107.8 L1157.8 107.7 L1159 107.9 L1160.3 108.2 L1161.5 108.7 L1162.7 109.3 L1163.9 110 L1165.1 110.9 L1166.2 111.8 L1167.3 112.9 L1168.4 114 L1169.4 115.2 L1170.4 116.5 L1171.3 117.8 L1172.2 119.2 L1173 120.6 L1173.9 122.1 L1174.6 123.5 L1175.4 125 L1176.2 126.5 L1176.9 128 L1177.6 129.5 L1178.3 131 L1178.9 132.4 L1179.6 133.8 L1180.2 135.3 L1180.9 136.7 L1181.5 138.1 L1182.1 139.5 L1182.6 140.8 L1183.2 142.2 L1183.8 143.6 L1184.3 145 L1184.9 146.3 L1185.4 147.7 L1185.9 149 L1186.5 150.4 L1187 151.8 L1187.5 153.1 L1188 154.5 L1188.5 155.9 L1189 157.2 L1189.5 158.6 L1190 160 L1190.5 161.4 L1191 162.8 L1191.5 164.2 L1191.9 165.6 L1192.4 167 L1192.9 168.4 L1193.4 169.8 L1193.8 171.2 L1194.3 172.6 L1194.8 174 L1195.2 175.4 L1195.7 176.8 L1196.2 178.2 L1196.6 179.6 L1197.1 181 L1197.5 182.5 L1198 183.9 L1198.4 185.3 L1198.9 186.7 L1199.3 188.2 L1199.8 189.6 L1200.2 191 L1200.6 192.5 L1201.1 193.9 L1201.5 195.3 L1201.9 196.8 L1202.4 198.2 L1202.8 199.6 L1203.3 201.1 L1203.7 202.5 L1204.1 204 L1204.5 205.4 L1205 206.8 L1205.4 208.3 L1205.8 209.7 L1206.3 211.2 L1206.7 212.6 L1207.1 214.1 L1207.6 215.5 L1208 217 L1208.4 218.4 L1208.9 219.8 L1209.3 221.3 L1209.7 222.7 L1210.2 224.2 L1210.6 225.6 L1211 227.1 L1211.5 228.5 L1211.9 230 L1212.3 231.4 L1212.8 232.8 L1213.2 234.3 L1213.7 235.7 L1214.1 237.2 L1214.5 238.6 L1215 240.1 L1215.4 241.5 L1215.9 242.9 L1216.3 244.4 L1216.8 245.8 L1217.2 247.2 L1217.7 248.7 L1218.2 250.1 L1218.6 251.5 L1219.1 253 L1219.5 254.4 L1220 255.8 L1220.5 257.2 L1220.9 258.7 L1221.4 260.1 L1221.9 261.5 L1222.4 262.9 L1222.8 264.4 L1223.3 265.8 L1223.8 267.2 L1224.3 268.6 L1224.7 270 L1225.2 271.5 L1225.7 272.9 L1226.2 274.3 L1226.7 275.7 L1227.1 277.1 L1227.6 278.6 L1228.1 280 L1228.6 281.4 L1229.1 282.8 L1229.6 284.2 L1230 285.6 L1230.5 287.1 L1231 288.5 L1231.5 289.9 L1232 291.3 L1232.5 292.7 L1232.9 294.1 L1233.4 295.5 L1233.9 297 L1234.4 298.4 L1234.9 299.8 L1235.4 301.2 L1235.8 302.6 L1236.3 304 L1236.8 305.4 L1237.3 306.9 L1237.8 308.3 L1238.2 309.7 L1238.7 311.1 L1239.2 312.5 L1239.7 313.9 L1240.2 315.4 L1240.6 316.8 L1241.1 318.2 L1241.6 319.6 L1242.1 321 L1242.5 322.5 L1243 323.9 L1243.5 325.3 L1243.9 326.7 L1244.4 328.1 L1244.9 329.6 L1245.3 331 L1245.8 332.4 L1246.2 333.8 L1246.7 335.3 L1247.1 336.7 L1247.6 338.1 L1248.1 339.5 L1248.5 341 L1248.9 342.4 L1249.4 343.8 L1249.8 345.3 L1250.3 346.7 L1250.7 348.1 L1251.2 349.6 L1251.6 351 L1252 352.4 L1252.5 353.9 L1252.9 355.3 L1253.4 356.7 L1253.8 358.2 L1254.2 359.6 L1254.7 361.1 L1255.1 362.5 L1255.5 363.9 L1256 365.4 L1256.4 366.8 L1256.9 368.2 L1257.3 369.7 L1257.7 371.1 L1258.2 372.5 L1258.6 374 L1259.1 375.4 L1259.5 376.8 L1259.9 378.3 L1260.4 379.7 L1260.8 381.1 L1261.3 382.6 L1261.7 384 L1262.2 385.4 L1262.7 386.9 L1263.1 388.3 L1263.6 389.7 L1264 391.1 L1264.5 392.6 L1265 394 L1265.5 395.4 L1265.9 396.8 L1266.4 398.3 L1266.9 399.7 L1267.4 401.1 L1267.9 402.5 L1268.4 403.9 L1268.9 405.3 L1269.4 406.7 L1269.9 408.2 L1270.4 409.6 L1270.9 411 L1271.4 412.4 L1271.9 413.8 L1272.5 415.2 L1273 416.6 L1273.5 418 L1274.1 419.4 L1274.6 420.8 L1275.2 422.1 L1275.7 423.5 L1276.3 424.9 L1276.9 426.3 L1277.4 427.7 L1278 429.1 L1278.6 430.4 L1279.2 431.8 L1279.8 433.2 L1280.4 434.6 L1281 435.9 L1281.6 437.3 L1282.2 438.7 L1282.8 440 L1283.5 441.4 L1284.1 442.7 L1284.7 444.1 L1285.4 445.4 L1286 446.8 L1286.7 448.1 L1287.3 449.5 L1288 450.8 L1288.7 452.2 L1289.3 453.5 L1290 454.9 L1290.7 456.2 L1291.4 457.5 L1292 458.9 L1292.7 460.2 L1293.4 461.5 L1294.1 462.9 L1294.8 464.2 L1295.5 465.5 L1296.2 466.8 L1296.9 468.1 L1297.7 469.5 L1298.4 470.8 L1299.1 472.1 L1299.8 473.4 L1300.5 474.7 L1301.3 476 L1302 477.4 L1302.7 478.7 L1303.5 480 L1304.2 481.3 L1305 482.6 L1305.7 483.9 L1306.5 485.2 L1307.2 486.5 L1308 487.8 L1308.7 489.1 L1309.5 490.4 L1310.3 491.7 L1311 493 L1311.8 494.3 L1312.5 495.6 L1313.3 496.9 L1314.1 498.2 L1314.9 499.4 L1315.6 500.7 L1316.4 502 L1317.2 503.3 L1318 504.6 L1318.8 505.9 L1319.5 507.2 L1320.3 508.4 L1321.1 509.7 L1321.9 511 L1322.7 512.3 L1323.5 513.6 L1324.3 514.8 L1325.1 516.1 L1325.9 517.4 L1326.7 518.7 L1327.5 519.9 L1328.3 521.2 L1329.1 522.5 L1329.9 523.7 L1330.7 525 L1331.5 526.2 L1332.4 527.5 L1333.2 528.7 L1334 530 L1334.9 531.2 L1335.7 532.4 L1336.5 533.7 L1337.4 534.9 L1338.3 536.1 L1339.1 537.3 L1340 538.6 L1340.9 539.8 L1341.8 541 L1342.6 542.2 L1343.5 543.4 L1344.4 544.5 L1345.3 545.7 L1346.3 546.9 L1347.2 548.1 L1348.1 549.2 L1349.1 550.4 L1350 551.5 L1351 552.7 L1351.9 553.8 L1352.9 555 L1353.9 556.1 L1354.9 557.2 L1355.9 558.3 L1356.9 559.4 L1357.9 560.5 L1358.9 561.6 L1359.9 562.7 L1361 563.7 L1362 564.8 L1363.1 565.8 L1364.2 566.9 L1365.2 567.9 L1366.3 568.9 L1367.4 570 L1368.5 571 L1369.6 572 L1370.8 573 L1371.9 574 L1373 574.9 L1374.2 575.9 L1375.3 576.9 L1376.5 577.8 L1377.6 578.8 L1378.8 579.7 L1380 580.6 L1381.2 581.6 L1382.4 582.5 L1383.6 583.4 L1384.8 584.3 L1386 585.2 L1387.2 586 L1388.5 586.9 L1389.7 587.8 L1390.9 588.6 L1392.2 589.4 L1393.4 590.3 L1394.7 591.1 L1396 591.9 L1397.2 592.7 L1398.5 593.5 L1399.8 594.3 L1401.1 595.1 L1402.4 595.9 L1403.7 596.6 L1405 597.4 L1406.3 598.1 L1407.6 598.8 L1409 599.6 L1410.3 600.3 L1411.6 601 L1413 601.7 L1414.3 602.3 L1415.6 603 L1417 603.7 L1418.4 604.3 L1419.7 605 L1421.1 605.6 L1422.5 606.2 L1423.8 606.9 L1425.2 607.5 L1426.6 608.1 L1428 608.6 L1429.4 609.2 L1430.8 609.8 L1432.2 610.3 L1433.6 610.9 L1435 611.4 L1436.4 612 L1437.8 612.5 L1439.2 613 L1440.6 613.5 L1442 614 L1443.4 614.4 L1444.9 614.9 L1446.3 615.3 L1447.7 615.8 L1449.2 616.2 L1450.6 616.6 L1452 617.1 L1453.5 617.5 L1454.9 617.8 L1456.4 618.2 L1457.8 618.6 L1459.2 619 L1460.7 619.3 L1462.1 619.6 L1463.6 620 L1465 620.3 L1466.5 620.6 L1468 620.9 L1469.4 621.2 L1470.9 621.4 L1472.3 621.7 L1473.8 621.9 L1475.2 622.2 L1476.7 622.4" stroke="#f2bb0d" stroke-width="3.6" fill="none" stroke-linejoin="round" stroke-linecap="butt"/>
<path d="M912.5 725 v-7.5 M912.5 32.5 v7.5 M1067.1 725 v-7.5 M1067.1 32.5 v7.5 M1221.8 725 v-7.5 M1221.8 32.5 v7.5 M1376.4 725 v-7.5 M1376.4 32.5 v7.5 M1531 725 v-7.5 M1531 32.5 v7.5 M912.5 725 h7.5 M1531 725 h-7.5 M912.5 609.6 h7.5 M1531 609.6 h-7.5 M912.5 494.2 h7.5 M1531 494.2 h-7.5 M912.5 378.8 h7.5 M1531 378.8 h-7.5 M912.5 263.3 h7.5 M1531 263.3 h-7.5 M912.5 147.9 h7.5 M1531 147.9 h-7.5 M912.5 32.5 h7.5 M1531 32.5 h-7.5" stroke="#262626" stroke-width="2.2" fill="none"/>
<rect x="912.5" y="32.5" width="618.5" height="692.5" fill="none" stroke="#303030" stroke-width="2.8"/>
<text x="912.5" y="757" class="tk" text-anchor="middle">0</text>
<text x="1067.1" y="757" class="tk" text-anchor="middle">100</text>
<text x="1221.8" y="757" class="tk" text-anchor="middle">200</text>
<text x="1376.4" y="757" class="tk" text-anchor="middle">300</text>
<text x="1531" y="757" class="tk" text-anchor="middle">400</text>
<text x="904.3" y="734.3" class="tk" text-anchor="end">200</text>
<text x="904.3" y="618.9" class="tk" text-anchor="end">250</text>
<text x="904.3" y="503.5" class="tk" text-anchor="end">300</text>
<text x="904.3" y="388.1" class="tk" text-anchor="end">350</text>
<text x="904.3" y="272.6" class="tk" text-anchor="end">400</text>
<text x="904.3" y="157.2" class="tk" text-anchor="end">450</text>
<text x="904.3" y="41.8" class="tk" text-anchor="end">500</text>
<text x="1221.8" y="790" class="al" text-anchor="middle">Prediction interval [d]</text>
<text transform="translate(855.5 378.2) rotate(-90)" class="yl" text-anchor="middle">PMY [mas]</text>
<path d="M1376.8 43.2 h47" stroke="#0a4f9c" stroke-width="3.9"/>
<text x="1428.8" y="50.6" class="lg" textLength="93.5" lengthAdjust="spacingAndGlyphs">True Value</text>
<path d="M1376.8 65.5 h47" stroke="#464c6c" stroke-width="3.9"/>
<text x="1428.8" y="72.9" class="lg" textLength="17.3" lengthAdjust="spacingAndGlyphs">6y</text>
<path d="M1376.8 87.8 h47" stroke="#52c6c2" stroke-width="3.9"/>
<text x="1428.8" y="95.2" class="lg" textLength="17.6" lengthAdjust="spacingAndGlyphs">8y</text>
<path d="M1376.8 110.1 h47" stroke="#607449" stroke-width="3.9"/>
<text x="1428.8" y="117.5" class="lg" textLength="26.4" lengthAdjust="spacingAndGlyphs">10y</text>
<path d="M1376.8 132.4 h47" stroke="#f26c45" stroke-width="3.9"/>
<text x="1428.8" y="139.8" class="lg" textLength="25.8" lengthAdjust="spacingAndGlyphs">12y</text>
<path d="M1376.8 154.7 h47" stroke="#f2bb0d" stroke-width="3.9"/>
<text x="1428.8" y="162.1" class="lg" textLength="80.5" lengthAdjust="spacingAndGlyphs">VLBI-10y</text>
</svg>
</body></html>
